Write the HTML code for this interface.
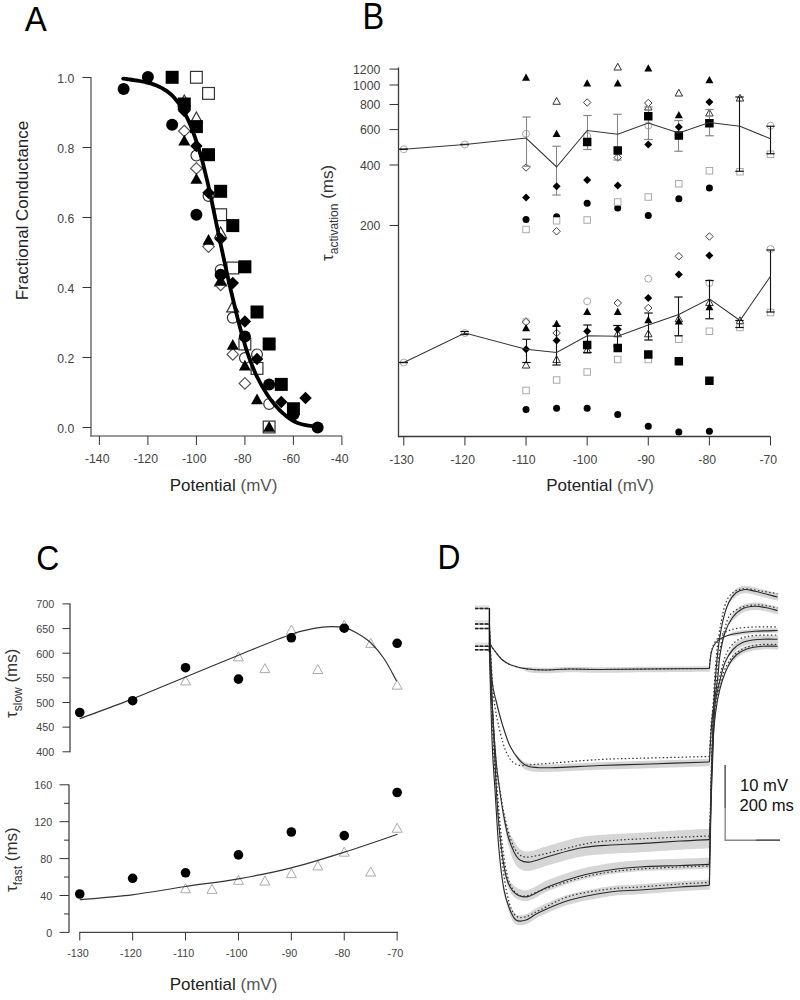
<!DOCTYPE html>
<html><head><meta charset="utf-8"><style>
html,body{margin:0;padding:0;background:#fff;width:800px;height:1000px;overflow:hidden}
svg{display:block;font-family:"Liberation Sans", sans-serif}
</style></head><body>
<svg width="800" height="1000" viewBox="0 0 800 1000">
<rect width="800" height="1000" fill="#fff"/>
<text x="0" y="0" font-size="33" fill="#000" text-anchor="middle" transform="translate(35.75,31.0) scale(1.0,1.054)">A</text>
<text x="0" y="0" font-size="33" fill="#000" text-anchor="middle" transform="translate(373.25,29.4) scale(0.986,1.115)">B</text>
<text x="0" y="0" font-size="33" fill="#000" text-anchor="middle" transform="translate(47.75,569.6) scale(0.966,1.066)">C</text>
<text x="0" y="0" font-size="33" fill="#000" text-anchor="middle" transform="translate(448.9,568.6) scale(0.963,1.078)">D</text>
<line x1="91.00" y1="77.00" x2="91.00" y2="436.50" stroke="#777" stroke-width="1.6" />
<line x1="90.20" y1="436.00" x2="342.00" y2="436.00" stroke="#777" stroke-width="1.6" />
<line x1="82.50" y1="427.50" x2="91.00" y2="427.50" stroke="#333" stroke-width="1" />
<text x="0" y="0" font-size="12.5" fill="#444" text-anchor="end" transform="translate(74.30,432.50) scale(0.98,1.065)" >0.0</text>
<line x1="82.50" y1="357.50" x2="91.00" y2="357.50" stroke="#333" stroke-width="1" />
<text x="0" y="0" font-size="12.5" fill="#444" text-anchor="end" transform="translate(74.30,362.50) scale(0.98,1.065)" >0.2</text>
<line x1="82.50" y1="287.50" x2="91.00" y2="287.50" stroke="#333" stroke-width="1" />
<text x="0" y="0" font-size="12.5" fill="#444" text-anchor="end" transform="translate(74.30,292.50) scale(0.98,1.065)" >0.4</text>
<line x1="82.50" y1="217.50" x2="91.00" y2="217.50" stroke="#333" stroke-width="1" />
<text x="0" y="0" font-size="12.5" fill="#444" text-anchor="end" transform="translate(74.30,222.50) scale(0.98,1.065)" >0.6</text>
<line x1="82.50" y1="147.50" x2="91.00" y2="147.50" stroke="#333" stroke-width="1" />
<text x="0" y="0" font-size="12.5" fill="#444" text-anchor="end" transform="translate(74.30,152.50) scale(0.98,1.065)" >0.8</text>
<line x1="82.50" y1="77.50" x2="91.00" y2="77.50" stroke="#333" stroke-width="1" />
<text x="0" y="0" font-size="12.5" fill="#444" text-anchor="end" transform="translate(74.30,82.50) scale(0.98,1.065)" >1.0</text>
<line x1="99.40" y1="436.00" x2="99.40" y2="445.00" stroke="#333" stroke-width="1" />
<text x="0" y="0" font-size="12.5" fill="#444" text-anchor="middle" transform="translate(97.20,463.30) scale(0.98,1.065)" >-140</text>
<line x1="147.90" y1="436.00" x2="147.90" y2="445.00" stroke="#333" stroke-width="1" />
<text x="0" y="0" font-size="12.5" fill="#444" text-anchor="middle" transform="translate(145.70,463.30) scale(0.98,1.065)" >-120</text>
<line x1="196.40" y1="436.00" x2="196.40" y2="445.00" stroke="#333" stroke-width="1" />
<text x="0" y="0" font-size="12.5" fill="#444" text-anchor="middle" transform="translate(194.20,463.30) scale(0.98,1.065)" >-100</text>
<line x1="244.90" y1="436.00" x2="244.90" y2="445.00" stroke="#333" stroke-width="1" />
<text x="0" y="0" font-size="12.5" fill="#444" text-anchor="middle" transform="translate(242.70,463.30) scale(0.98,1.065)" >-80</text>
<line x1="293.40" y1="436.00" x2="293.40" y2="445.00" stroke="#333" stroke-width="1" />
<text x="0" y="0" font-size="12.5" fill="#444" text-anchor="middle" transform="translate(291.20,463.30) scale(0.98,1.065)" >-60</text>
<line x1="341.90" y1="436.00" x2="341.90" y2="445.00" stroke="#333" stroke-width="1" />
<text x="0" y="0" font-size="12.5" fill="#444" text-anchor="middle" transform="translate(339.70,463.30) scale(0.98,1.065)" >-40</text>
<text x="223.50" y="491.20" font-size="17" fill="#222" text-anchor="middle" >Potential <tspan fill="#555">(mV)</tspan></text>
<text x="0" y="0" font-size="17" fill="#222" text-anchor="middle" transform="translate(28.2,210.5) rotate(-90)">Fractional Conductance</text>
<rect x="190.50" y="71.40" width="11.80" height="11.80" fill="#fff" stroke="#333" stroke-width="1.2"/>
<rect x="202.62" y="87.50" width="11.80" height="11.80" fill="#fff" stroke="#333" stroke-width="1.2"/>
<rect x="214.75" y="208.80" width="11.80" height="11.80" fill="#fff" stroke="#333" stroke-width="1.2"/>
<rect x="226.88" y="262.10" width="11.80" height="11.80" fill="#fff" stroke="#333" stroke-width="1.2"/>
<rect x="239.00" y="338.10" width="11.80" height="11.80" fill="#fff" stroke="#333" stroke-width="1.2"/>
<rect x="251.12" y="362.50" width="11.80" height="11.80" fill="#fff" stroke="#333" stroke-width="1.2"/>
<rect x="263.25" y="421.10" width="11.80" height="11.80" fill="#fff" stroke="#333" stroke-width="1.2"/>
<polygon points="184.28,95.06 190.28,105.86 178.28,105.86" fill="#fff" stroke="#333" stroke-width="1.2" stroke-linejoin="miter"/>
<polygon points="196.40,112.06 202.40,122.86 190.40,122.86" fill="#fff" stroke="#333" stroke-width="1.2" stroke-linejoin="miter"/>
<polygon points="220.65,227.06 226.65,237.86 214.65,237.86" fill="#fff" stroke="#333" stroke-width="1.2" stroke-linejoin="miter"/>
<polygon points="232.78,301.06 238.78,311.86 226.78,311.86" fill="#fff" stroke="#333" stroke-width="1.2" stroke-linejoin="miter"/>
<polygon points="220.65,275.06 226.65,285.86 214.65,285.86" fill="#fff" stroke="#333" stroke-width="1.2" stroke-linejoin="miter"/>
<circle cx="196.40" cy="155.60" r="5.40" fill="#fff" stroke="#333" stroke-width="1.2"/>
<circle cx="208.52" cy="196.00" r="5.40" fill="#fff" stroke="#333" stroke-width="1.2"/>
<circle cx="220.65" cy="270.00" r="5.40" fill="#fff" stroke="#333" stroke-width="1.2"/>
<circle cx="232.78" cy="317.80" r="5.40" fill="#fff" stroke="#333" stroke-width="1.2"/>
<circle cx="244.90" cy="358.00" r="5.40" fill="#fff" stroke="#333" stroke-width="1.2"/>
<circle cx="257.02" cy="354.40" r="5.40" fill="#fff" stroke="#333" stroke-width="1.2"/>
<circle cx="269.15" cy="404.00" r="5.40" fill="#fff" stroke="#333" stroke-width="1.2"/>
<polygon points="184.28,125.25 190.03,131.00 184.28,136.75 178.53,131.00" fill="#fff" stroke="#555" stroke-width="1.2"/>
<polygon points="196.40,162.65 202.15,168.40 196.40,174.15 190.65,168.40" fill="#fff" stroke="#555" stroke-width="1.2"/>
<polygon points="208.52,240.85 214.27,246.60 208.52,252.35 202.77,246.60" fill="#fff" stroke="#555" stroke-width="1.2"/>
<polygon points="220.65,279.25 226.40,285.00 220.65,290.75 214.90,285.00" fill="#fff" stroke="#555" stroke-width="1.2"/>
<polygon points="232.78,348.65 238.53,354.40 232.78,360.15 227.03,354.40" fill="#fff" stroke="#555" stroke-width="1.2"/>
<polygon points="244.90,377.65 250.65,383.40 244.90,389.15 239.15,383.40" fill="#fff" stroke="#555" stroke-width="1.2"/>
<rect x="165.65" y="70.80" width="13.00" height="13.00" fill="#000"/>
<rect x="177.78" y="97.50" width="13.00" height="13.00" fill="#000"/>
<rect x="189.90" y="120.10" width="13.00" height="13.00" fill="#000"/>
<rect x="202.02" y="148.20" width="13.00" height="13.00" fill="#000"/>
<rect x="214.15" y="184.80" width="13.00" height="13.00" fill="#000"/>
<rect x="226.28" y="219.10" width="13.00" height="13.00" fill="#000"/>
<rect x="238.40" y="260.30" width="13.00" height="13.00" fill="#000"/>
<rect x="250.52" y="305.50" width="13.00" height="13.00" fill="#000"/>
<rect x="262.65" y="337.50" width="13.00" height="13.00" fill="#000"/>
<rect x="274.77" y="377.90" width="13.00" height="13.00" fill="#000"/>
<rect x="286.90" y="402.25" width="13.00" height="13.00" fill="#000"/>
<circle cx="123.65" cy="89.00" r="6.00" fill="#000"/>
<circle cx="147.90" cy="77.00" r="6.00" fill="#000"/>
<circle cx="172.15" cy="124.70" r="6.00" fill="#000"/>
<circle cx="196.40" cy="214.70" r="6.00" fill="#000"/>
<circle cx="220.65" cy="274.70" r="6.00" fill="#000"/>
<circle cx="244.90" cy="336.60" r="6.00" fill="#000"/>
<circle cx="269.15" cy="384.40" r="6.00" fill="#000"/>
<circle cx="293.40" cy="414.40" r="6.00" fill="#000"/>
<circle cx="317.65" cy="427.50" r="6.00" fill="#000"/>
<polygon points="184.28,104.75 190.53,111.00 184.28,117.25 178.03,111.00" fill="#000"/>
<polygon points="196.40,139.75 202.65,146.00 196.40,152.25 190.15,146.00" fill="#000"/>
<polygon points="208.52,186.55 214.77,192.80 208.52,199.05 202.27,192.80" fill="#000"/>
<polygon points="220.65,232.75 226.90,239.00 220.65,245.25 214.40,239.00" fill="#000"/>
<polygon points="232.78,276.75 239.03,283.00 232.78,289.25 226.53,283.00" fill="#000"/>
<polygon points="244.90,315.35 251.15,321.60 244.90,327.85 238.65,321.60" fill="#000"/>
<polygon points="257.02,352.75 263.27,359.00 257.02,365.25 250.77,359.00" fill="#000"/>
<polygon points="281.27,395.75 287.52,402.00 281.27,408.25 275.02,402.00" fill="#000"/>
<polygon points="305.52,391.75 311.77,398.00 305.52,404.25 299.27,398.00" fill="#000"/>
<polygon points="184.28,134.66 190.28,145.46 178.28,145.46" fill="#000"/>
<polygon points="196.40,173.06 202.40,183.86 190.40,183.86" fill="#000"/>
<polygon points="208.52,234.06 214.52,244.86 202.52,244.86" fill="#000"/>
<polygon points="220.65,275.06 226.65,285.86 214.65,285.86" fill="#000"/>
<polygon points="232.78,339.06 238.78,349.86 226.78,349.86" fill="#000"/>
<polygon points="244.90,359.66 250.90,370.46 238.90,370.46" fill="#000"/>
<polygon points="257.02,393.46 263.02,404.26 251.02,404.26" fill="#000"/>
<polygon points="269.15,421.06 275.15,431.86 263.15,431.86" fill="#000"/>
<path d="M123.20,78.60 C123.75,78.67 125.40,78.85 126.50,79.00 C127.60,79.15 128.72,79.33 129.80,79.50 C130.88,79.67 131.92,79.83 133.00,80.00 C134.08,80.17 135.20,80.33 136.30,80.50 C137.40,80.67 138.52,80.82 139.60,81.00 C140.68,81.18 141.72,81.38 142.80,81.60 C143.88,81.82 145.00,82.03 146.10,82.30 C147.20,82.57 148.32,82.90 149.40,83.20 C150.48,83.50 151.52,83.75 152.60,84.10 C153.68,84.45 154.80,84.87 155.90,85.30 C157.00,85.73 158.12,86.20 159.20,86.70 C160.28,87.20 161.32,87.68 162.40,88.30 C163.48,88.92 164.60,89.65 165.70,90.40 C166.80,91.15 167.90,91.92 169.00,92.80 C170.10,93.68 171.22,94.63 172.30,95.70 C173.38,96.77 174.42,97.92 175.50,99.20 C176.58,100.48 177.70,101.88 178.80,103.40 C179.90,104.92 181.02,106.52 182.10,108.30 C183.18,110.08 184.22,112.00 185.30,114.10 C186.38,116.20 187.50,118.47 188.60,120.90 C189.70,123.33 190.82,125.92 191.90,128.70 C192.98,131.48 194.02,134.45 195.10,137.60 C196.18,140.75 197.30,144.07 198.40,147.60 C199.50,151.13 200.62,154.83 201.70,158.80 C202.78,162.77 203.82,167.02 204.90,171.40 C205.98,175.78 207.10,180.33 208.20,185.10 C209.30,189.87 210.42,194.93 211.50,200.00 C212.58,205.07 213.62,210.27 214.70,215.50 C215.78,220.73 216.90,226.13 218.00,231.40 C219.10,236.67 220.20,241.93 221.30,247.10 C222.40,252.27 223.51,257.42 224.59,262.40 C225.67,267.38 226.71,272.23 227.78,277.00 C228.85,281.77 229.95,286.47 231.03,291.00 C232.10,295.53 233.18,299.93 234.21,304.20 C235.24,308.47 236.21,312.60 237.21,316.60 C238.21,320.60 239.23,324.48 240.22,328.20 C241.22,331.92 242.23,335.47 243.21,338.90 C244.19,342.33 245.12,345.65 246.12,348.80 C247.12,351.95 248.16,354.92 249.21,357.80 C250.26,360.68 251.35,363.45 252.41,366.10 C253.48,368.75 254.52,371.30 255.61,373.70 C256.71,376.10 257.85,378.32 258.98,380.50 C260.12,382.68 261.26,384.82 262.41,386.80 C263.55,388.78 264.72,390.62 265.85,392.40 C266.98,394.18 268.07,395.88 269.20,397.50 C270.33,399.12 271.49,400.63 272.64,402.10 C273.78,403.57 274.94,405.00 276.07,406.30 C277.19,407.60 278.25,408.75 279.37,409.90 C280.49,411.05 281.64,412.18 282.76,413.20 C283.89,414.22 285.03,415.13 286.14,416.00 C287.24,416.87 288.30,417.65 289.40,418.40 C290.50,419.15 291.63,419.87 292.75,420.50 C293.86,421.13 294.99,421.70 296.08,422.20 C297.18,422.70 298.22,423.12 299.31,423.50 C300.40,423.88 301.53,424.22 302.63,424.50 C303.74,424.78 304.61,424.97 305.94,425.20 C307.28,425.43 309.04,425.70 310.66,425.90 C312.28,426.10 314.83,426.32 315.67,426.40" fill="none" stroke="#000" stroke-width="3.8" stroke-linecap="round"/>
<line x1="398.50" y1="67.50" x2="398.50" y2="437.20" stroke="#3a3a3a" stroke-width="1.3" />
<line x1="397.90" y1="436.50" x2="770.50" y2="436.50" stroke="#3a3a3a" stroke-width="1.3" />
<line x1="389.50" y1="69.08" x2="398.50" y2="69.08" stroke="#333" stroke-width="1" />
<text x="0" y="0" font-size="12.5" fill="#444" text-anchor="end" transform="translate(380.30,73.98) scale(0.98,1.065)" >1200</text>
<line x1="389.50" y1="85.00" x2="398.50" y2="85.00" stroke="#333" stroke-width="1" />
<text x="0" y="0" font-size="12.5" fill="#444" text-anchor="end" transform="translate(380.30,89.90) scale(0.98,1.065)" >1000</text>
<line x1="389.50" y1="104.48" x2="398.50" y2="104.48" stroke="#333" stroke-width="1" />
<text x="0" y="0" font-size="12.5" fill="#444" text-anchor="end" transform="translate(380.30,109.38) scale(0.98,1.065)" >800</text>
<line x1="389.50" y1="129.59" x2="398.50" y2="129.59" stroke="#333" stroke-width="1" />
<text x="0" y="0" font-size="12.5" fill="#444" text-anchor="end" transform="translate(380.30,134.49) scale(0.98,1.065)" >600</text>
<line x1="389.50" y1="164.99" x2="398.50" y2="164.99" stroke="#333" stroke-width="1" />
<text x="0" y="0" font-size="12.5" fill="#444" text-anchor="end" transform="translate(380.30,169.89) scale(0.98,1.065)" >400</text>
<line x1="389.50" y1="225.49" x2="398.50" y2="225.49" stroke="#333" stroke-width="1" />
<text x="0" y="0" font-size="12.5" fill="#444" text-anchor="end" transform="translate(380.30,230.39) scale(0.98,1.065)" >200</text>
<line x1="403.80" y1="436.50" x2="403.80" y2="445.50" stroke="#333" stroke-width="1" />
<text x="0" y="0" font-size="12.5" fill="#444" text-anchor="middle" transform="translate(401.60,463.60) scale(0.98,1.065)" >-130</text>
<line x1="464.92" y1="436.50" x2="464.92" y2="445.50" stroke="#333" stroke-width="1" />
<text x="0" y="0" font-size="12.5" fill="#444" text-anchor="middle" transform="translate(462.72,463.60) scale(0.98,1.065)" >-120</text>
<line x1="526.04" y1="436.50" x2="526.04" y2="445.50" stroke="#333" stroke-width="1" />
<text x="0" y="0" font-size="12.5" fill="#444" text-anchor="middle" transform="translate(523.84,463.60) scale(0.98,1.065)" >-110</text>
<line x1="587.16" y1="436.50" x2="587.16" y2="445.50" stroke="#333" stroke-width="1" />
<text x="0" y="0" font-size="12.5" fill="#444" text-anchor="middle" transform="translate(584.96,463.60) scale(0.98,1.065)" >-100</text>
<line x1="648.28" y1="436.50" x2="648.28" y2="445.50" stroke="#333" stroke-width="1" />
<text x="0" y="0" font-size="12.5" fill="#444" text-anchor="middle" transform="translate(646.08,463.60) scale(0.98,1.065)" >-90</text>
<line x1="709.40" y1="436.50" x2="709.40" y2="445.50" stroke="#333" stroke-width="1" />
<text x="0" y="0" font-size="12.5" fill="#444" text-anchor="middle" transform="translate(707.20,463.60) scale(0.98,1.065)" >-80</text>
<line x1="770.52" y1="436.50" x2="770.52" y2="445.50" stroke="#333" stroke-width="1" />
<text x="0" y="0" font-size="12.5" fill="#444" text-anchor="middle" transform="translate(768.32,463.60) scale(0.98,1.065)" >-70</text>
<text x="600.00" y="491.20" font-size="17" fill="#222" text-anchor="middle" >Potential <tspan fill="#555">(mV)</tspan></text>
<g transform="translate(332.5,261) rotate(-90)"><text x="0" y="0" font-size="17" fill="#333">τ<tspan font-size="12" dy="5">activation</tspan><tspan dy="-5" font-size="17"> (ms)</tspan></text></g>
<circle cx="403.80" cy="149.25" r="3.50" fill="#fff" stroke="#aaa" stroke-width="1"/>
<circle cx="464.92" cy="144.50" r="3.50" fill="#fff" stroke="#aaa" stroke-width="1"/>
<circle cx="526.04" cy="133.75" r="3.50" fill="#fff" stroke="#aaa" stroke-width="1"/>
<circle cx="587.16" cy="136.00" r="3.50" fill="#fff" stroke="#aaa" stroke-width="1"/>
<circle cx="648.28" cy="125.50" r="3.50" fill="#fff" stroke="#aaa" stroke-width="1"/>
<circle cx="770.52" cy="125.75" r="3.50" fill="#fff" stroke="#aaa" stroke-width="1"/>
<circle cx="403.80" cy="362.50" r="3.50" fill="#fff" stroke="#aaa" stroke-width="1"/>
<circle cx="464.92" cy="333.00" r="3.50" fill="#fff" stroke="#aaa" stroke-width="1"/>
<circle cx="526.04" cy="321.25" r="3.50" fill="#fff" stroke="#aaa" stroke-width="1"/>
<circle cx="587.16" cy="301.25" r="3.50" fill="#fff" stroke="#aaa" stroke-width="1"/>
<circle cx="648.28" cy="278.75" r="3.50" fill="#fff" stroke="#aaa" stroke-width="1"/>
<circle cx="709.40" cy="283.00" r="3.50" fill="#fff" stroke="#aaa" stroke-width="1"/>
<circle cx="770.52" cy="249.00" r="3.50" fill="#fff" stroke="#aaa" stroke-width="1"/>
<polygon points="556.60,97.54 560.35,104.29 552.85,104.29" fill="#fff" stroke="#333" stroke-width="1" stroke-linejoin="miter"/>
<polygon points="617.72,63.29 621.47,70.04 613.97,70.04" fill="#fff" stroke="#333" stroke-width="1" stroke-linejoin="miter"/>
<polygon points="648.28,103.29 652.03,110.04 644.53,110.04" fill="#fff" stroke="#333" stroke-width="1" stroke-linejoin="miter"/>
<polygon points="678.84,89.29 682.59,96.04 675.09,96.04" fill="#fff" stroke="#333" stroke-width="1" stroke-linejoin="miter"/>
<polygon points="709.40,109.29 713.15,116.04 705.65,116.04" fill="#fff" stroke="#333" stroke-width="1" stroke-linejoin="miter"/>
<polygon points="739.96,94.29 743.71,101.04 736.21,101.04" fill="#fff" stroke="#333" stroke-width="1" stroke-linejoin="miter"/>
<polygon points="526.04,361.29 529.79,368.04 522.29,368.04" fill="#fff" stroke="#333" stroke-width="1" stroke-linejoin="miter"/>
<polygon points="556.60,355.79 560.35,362.54 552.85,362.54" fill="#fff" stroke="#333" stroke-width="1" stroke-linejoin="miter"/>
<polygon points="587.16,346.29 590.91,353.04 583.41,353.04" fill="#fff" stroke="#333" stroke-width="1" stroke-linejoin="miter"/>
<polygon points="617.72,330.04 621.47,336.79 613.97,336.79" fill="#fff" stroke="#333" stroke-width="1" stroke-linejoin="miter"/>
<polygon points="648.28,330.04 652.03,336.79 644.53,336.79" fill="#fff" stroke="#333" stroke-width="1" stroke-linejoin="miter"/>
<polygon points="678.84,315.04 682.59,321.79 675.09,321.79" fill="#fff" stroke="#333" stroke-width="1" stroke-linejoin="miter"/>
<polygon points="709.40,298.79 713.15,305.54 705.65,305.54" fill="#fff" stroke="#333" stroke-width="1" stroke-linejoin="miter"/>
<polygon points="739.96,316.79 743.71,323.54 736.21,323.54" fill="#fff" stroke="#333" stroke-width="1" stroke-linejoin="miter"/>
<polygon points="526.04,163.75 529.79,167.50 526.04,171.25 522.29,167.50" fill="#fff" stroke="#444" stroke-width="1"/>
<polygon points="556.60,227.50 560.35,231.25 556.60,235.00 552.85,231.25" fill="#fff" stroke="#444" stroke-width="1"/>
<polygon points="587.16,98.75 590.91,102.50 587.16,106.25 583.41,102.50" fill="#fff" stroke="#444" stroke-width="1"/>
<polygon points="617.72,153.75 621.47,157.50 617.72,161.25 613.97,157.50" fill="#fff" stroke="#444" stroke-width="1"/>
<polygon points="648.28,99.25 652.03,103.00 648.28,106.75 644.53,103.00" fill="#fff" stroke="#444" stroke-width="1"/>
<polygon points="709.40,232.75 713.15,236.50 709.40,240.25 705.65,236.50" fill="#fff" stroke="#444" stroke-width="1"/>
<polygon points="526.04,318.25 529.79,322.00 526.04,325.75 522.29,322.00" fill="#fff" stroke="#444" stroke-width="1"/>
<polygon points="556.60,329.25 560.35,333.00 556.60,336.75 552.85,333.00" fill="#fff" stroke="#444" stroke-width="1"/>
<polygon points="617.72,299.25 621.47,303.00 617.72,306.75 613.97,303.00" fill="#fff" stroke="#444" stroke-width="1"/>
<polygon points="648.28,304.25 652.03,308.00 648.28,311.75 644.53,308.00" fill="#fff" stroke="#444" stroke-width="1"/>
<polygon points="678.84,252.50 682.59,256.25 678.84,260.00 675.09,256.25" fill="#fff" stroke="#444" stroke-width="1"/>
<circle cx="526.04" cy="219.50" r="3.50" fill="#000"/>
<circle cx="556.60" cy="216.75" r="3.50" fill="#000"/>
<circle cx="587.16" cy="203.30" r="3.50" fill="#000"/>
<circle cx="617.72" cy="208.00" r="3.50" fill="#000"/>
<circle cx="648.28" cy="215.50" r="3.50" fill="#000"/>
<circle cx="678.84" cy="198.75" r="3.50" fill="#000"/>
<circle cx="709.40" cy="188.00" r="3.50" fill="#000"/>
<circle cx="526.04" cy="409.50" r="3.50" fill="#000"/>
<circle cx="556.60" cy="408.25" r="3.50" fill="#000"/>
<circle cx="587.16" cy="408.25" r="3.50" fill="#000"/>
<circle cx="617.72" cy="414.50" r="3.50" fill="#000"/>
<circle cx="648.28" cy="426.25" r="3.50" fill="#000"/>
<circle cx="678.84" cy="432.00" r="3.50" fill="#000"/>
<circle cx="709.40" cy="431.25" r="3.50" fill="#000"/>
<rect x="522.79" y="226.25" width="6.50" height="6.50" fill="#fff" stroke="#aaa" stroke-width="1"/>
<rect x="553.35" y="217.50" width="6.50" height="6.50" fill="#fff" stroke="#aaa" stroke-width="1"/>
<rect x="583.91" y="216.75" width="6.50" height="6.50" fill="#fff" stroke="#aaa" stroke-width="1"/>
<rect x="614.47" y="198.75" width="6.50" height="6.50" fill="#fff" stroke="#aaa" stroke-width="1"/>
<rect x="645.03" y="193.75" width="6.50" height="6.50" fill="#fff" stroke="#aaa" stroke-width="1"/>
<rect x="675.59" y="180.50" width="6.50" height="6.50" fill="#fff" stroke="#aaa" stroke-width="1"/>
<rect x="706.15" y="167.50" width="6.50" height="6.50" fill="#fff" stroke="#aaa" stroke-width="1"/>
<rect x="736.71" y="168.50" width="6.50" height="6.50" fill="#fff" stroke="#aaa" stroke-width="1"/>
<rect x="767.27" y="151.00" width="6.50" height="6.50" fill="#fff" stroke="#aaa" stroke-width="1"/>
<rect x="522.79" y="387.25" width="6.50" height="6.50" fill="#fff" stroke="#aaa" stroke-width="1"/>
<rect x="553.35" y="376.75" width="6.50" height="6.50" fill="#fff" stroke="#aaa" stroke-width="1"/>
<rect x="583.91" y="368.75" width="6.50" height="6.50" fill="#fff" stroke="#aaa" stroke-width="1"/>
<rect x="614.47" y="356.25" width="6.50" height="6.50" fill="#fff" stroke="#aaa" stroke-width="1"/>
<rect x="645.03" y="356.25" width="6.50" height="6.50" fill="#fff" stroke="#aaa" stroke-width="1"/>
<rect x="675.59" y="336.00" width="6.50" height="6.50" fill="#fff" stroke="#aaa" stroke-width="1"/>
<rect x="706.15" y="328.00" width="6.50" height="6.50" fill="#fff" stroke="#aaa" stroke-width="1"/>
<rect x="736.71" y="324.25" width="6.50" height="6.50" fill="#fff" stroke="#aaa" stroke-width="1"/>
<rect x="767.27" y="309.25" width="6.50" height="6.50" fill="#fff" stroke="#aaa" stroke-width="1"/>
<line x1="403.50" y1="149.25" x2="403.50" y2="149.25" stroke="#111" stroke-width="1.1" />
<line x1="399.30" y1="149.25" x2="407.70" y2="149.25" stroke="#111" stroke-width="1.2" />
<line x1="399.30" y1="149.25" x2="407.70" y2="149.25" stroke="#111" stroke-width="1.2" />
<line x1="464.50" y1="144.50" x2="464.50" y2="144.50" stroke="#111" stroke-width="1.1" />
<line x1="460.30" y1="144.50" x2="468.70" y2="144.50" stroke="#111" stroke-width="1.2" />
<line x1="460.30" y1="144.50" x2="468.70" y2="144.50" stroke="#111" stroke-width="1.2" />
<line x1="526.50" y1="117.00" x2="526.50" y2="166.25" stroke="#888" stroke-width="1.1" />
<line x1="522.30" y1="117.00" x2="530.70" y2="117.00" stroke="#888" stroke-width="1.2" />
<line x1="522.30" y1="166.25" x2="530.70" y2="166.25" stroke="#888" stroke-width="1.2" />
<line x1="556.50" y1="146.25" x2="556.50" y2="195.00" stroke="#888" stroke-width="1.1" />
<line x1="552.30" y1="146.25" x2="560.70" y2="146.25" stroke="#888" stroke-width="1.2" />
<line x1="552.30" y1="195.00" x2="560.70" y2="195.00" stroke="#888" stroke-width="1.2" />
<line x1="587.50" y1="115.50" x2="587.50" y2="149.50" stroke="#888" stroke-width="1.1" />
<line x1="583.30" y1="115.50" x2="591.70" y2="115.50" stroke="#888" stroke-width="1.2" />
<line x1="583.30" y1="149.50" x2="591.70" y2="149.50" stroke="#888" stroke-width="1.2" />
<line x1="617.50" y1="114.25" x2="617.50" y2="160.00" stroke="#888" stroke-width="1.1" />
<line x1="613.30" y1="114.25" x2="621.70" y2="114.25" stroke="#888" stroke-width="1.2" />
<line x1="613.30" y1="160.00" x2="621.70" y2="160.00" stroke="#888" stroke-width="1.2" />
<line x1="648.50" y1="107.00" x2="648.50" y2="139.50" stroke="#888" stroke-width="1.1" />
<line x1="644.30" y1="107.00" x2="652.70" y2="107.00" stroke="#888" stroke-width="1.2" />
<line x1="644.30" y1="139.50" x2="652.70" y2="139.50" stroke="#888" stroke-width="1.2" />
<line x1="678.50" y1="120.50" x2="678.50" y2="151.25" stroke="#888" stroke-width="1.1" />
<line x1="674.30" y1="120.50" x2="682.70" y2="120.50" stroke="#888" stroke-width="1.2" />
<line x1="674.30" y1="151.25" x2="682.70" y2="151.25" stroke="#888" stroke-width="1.2" />
<line x1="709.50" y1="109.50" x2="709.50" y2="135.75" stroke="#888" stroke-width="1.1" />
<line x1="705.30" y1="109.50" x2="713.70" y2="109.50" stroke="#888" stroke-width="1.2" />
<line x1="705.30" y1="135.75" x2="713.70" y2="135.75" stroke="#888" stroke-width="1.2" />
<line x1="739.50" y1="97.00" x2="739.50" y2="171.25" stroke="#111" stroke-width="1.1" />
<line x1="735.30" y1="97.00" x2="743.70" y2="97.00" stroke="#111" stroke-width="1.2" />
<line x1="735.30" y1="171.25" x2="743.70" y2="171.25" stroke="#111" stroke-width="1.2" />
<line x1="770.50" y1="126.25" x2="770.50" y2="153.75" stroke="#111" stroke-width="1.1" />
<line x1="766.30" y1="126.25" x2="774.70" y2="126.25" stroke="#111" stroke-width="1.2" />
<line x1="766.30" y1="153.75" x2="774.70" y2="153.75" stroke="#111" stroke-width="1.2" />
<line x1="403.50" y1="362.50" x2="403.50" y2="362.50" stroke="#111" stroke-width="1.1" />
<line x1="399.30" y1="362.50" x2="407.70" y2="362.50" stroke="#111" stroke-width="1.2" />
<line x1="399.30" y1="362.50" x2="407.70" y2="362.50" stroke="#111" stroke-width="1.2" />
<line x1="526.50" y1="339.25" x2="526.50" y2="362.50" stroke="#111" stroke-width="1.1" />
<line x1="522.30" y1="339.25" x2="530.70" y2="339.25" stroke="#111" stroke-width="1.2" />
<line x1="522.30" y1="362.50" x2="530.70" y2="362.50" stroke="#111" stroke-width="1.2" />
<line x1="556.50" y1="326.00" x2="556.50" y2="365.00" stroke="#111" stroke-width="1.1" />
<line x1="552.30" y1="326.00" x2="560.70" y2="326.00" stroke="#111" stroke-width="1.2" />
<line x1="552.30" y1="365.00" x2="560.70" y2="365.00" stroke="#111" stroke-width="1.2" />
<line x1="587.50" y1="325.00" x2="587.50" y2="352.50" stroke="#111" stroke-width="1.1" />
<line x1="583.30" y1="325.00" x2="591.70" y2="325.00" stroke="#111" stroke-width="1.2" />
<line x1="583.30" y1="352.50" x2="591.70" y2="352.50" stroke="#111" stroke-width="1.2" />
<line x1="617.50" y1="325.50" x2="617.50" y2="346.00" stroke="#111" stroke-width="1.1" />
<line x1="613.30" y1="325.50" x2="621.70" y2="325.50" stroke="#111" stroke-width="1.2" />
<line x1="613.30" y1="346.00" x2="621.70" y2="346.00" stroke="#111" stroke-width="1.2" />
<line x1="648.50" y1="313.00" x2="648.50" y2="340.00" stroke="#111" stroke-width="1.1" />
<line x1="644.30" y1="313.00" x2="652.70" y2="313.00" stroke="#111" stroke-width="1.2" />
<line x1="644.30" y1="340.00" x2="652.70" y2="340.00" stroke="#111" stroke-width="1.2" />
<line x1="678.50" y1="297.00" x2="678.50" y2="335.75" stroke="#111" stroke-width="1.1" />
<line x1="674.30" y1="297.00" x2="682.70" y2="297.00" stroke="#111" stroke-width="1.2" />
<line x1="674.30" y1="335.75" x2="682.70" y2="335.75" stroke="#111" stroke-width="1.2" />
<line x1="709.50" y1="280.50" x2="709.50" y2="318.75" stroke="#111" stroke-width="1.1" />
<line x1="705.30" y1="280.50" x2="713.70" y2="280.50" stroke="#111" stroke-width="1.2" />
<line x1="705.30" y1="318.75" x2="713.70" y2="318.75" stroke="#111" stroke-width="1.2" />
<line x1="739.50" y1="320.50" x2="739.50" y2="327.50" stroke="#111" stroke-width="1.1" />
<line x1="735.30" y1="320.50" x2="743.70" y2="320.50" stroke="#111" stroke-width="1.2" />
<line x1="735.30" y1="327.50" x2="743.70" y2="327.50" stroke="#111" stroke-width="1.2" />
<line x1="770.50" y1="250.00" x2="770.50" y2="312.00" stroke="#111" stroke-width="1.1" />
<line x1="766.30" y1="250.00" x2="774.70" y2="250.00" stroke="#111" stroke-width="1.2" />
<line x1="766.30" y1="312.00" x2="774.70" y2="312.00" stroke="#111" stroke-width="1.2" />
<line x1="464.50" y1="331.50" x2="464.50" y2="334.50" stroke="#111" stroke-width="1.1" />
<line x1="460.30" y1="331.50" x2="468.70" y2="331.50" stroke="#111" stroke-width="1.2" />
<line x1="460.30" y1="334.50" x2="468.70" y2="334.50" stroke="#111" stroke-width="1.2" />
<polygon points="526.04,73.54 530.04,80.74 522.04,80.74" fill="#000"/>
<polygon points="556.60,129.79 560.60,136.99 552.60,136.99" fill="#000"/>
<polygon points="587.16,79.29 591.16,86.49 583.16,86.49" fill="#000"/>
<polygon points="617.72,79.29 621.72,86.49 613.72,86.49" fill="#000"/>
<polygon points="648.28,64.29 652.28,71.49 644.28,71.49" fill="#000"/>
<polygon points="678.84,111.04 682.84,118.24 674.84,118.24" fill="#000"/>
<polygon points="709.40,76.04 713.40,83.24 705.40,83.24" fill="#000"/>
<polygon points="526.04,324.04 530.04,331.24 522.04,331.24" fill="#000"/>
<polygon points="556.60,319.79 560.60,326.99 552.60,326.99" fill="#000"/>
<polygon points="587.16,307.79 591.16,314.99 583.16,314.99" fill="#000"/>
<polygon points="617.72,307.79 621.72,314.99 613.72,314.99" fill="#000"/>
<polygon points="648.28,316.04 652.28,323.24 644.28,323.24" fill="#000"/>
<polygon points="678.84,317.29 682.84,324.49 674.84,324.49" fill="#000"/>
<polygon points="709.40,303.04 713.40,310.24 705.40,310.24" fill="#000"/>
<polygon points="526.04,193.50 530.04,197.50 526.04,201.50 522.04,197.50" fill="#000"/>
<polygon points="556.60,182.25 560.60,186.25 556.60,190.25 552.60,186.25" fill="#000"/>
<polygon points="587.16,176.00 591.16,180.00 587.16,184.00 583.16,180.00" fill="#000"/>
<polygon points="617.72,181.50 621.72,185.50 617.72,189.50 613.72,185.50" fill="#000"/>
<polygon points="648.28,140.50 652.28,144.50 648.28,148.50 644.28,144.50" fill="#000"/>
<polygon points="678.84,123.00 682.84,127.00 678.84,131.00 674.84,127.00" fill="#000"/>
<polygon points="709.40,98.00 713.40,102.00 709.40,106.00 705.40,102.00" fill="#000"/>
<polygon points="526.04,345.25 530.04,349.25 526.04,353.25 522.04,349.25" fill="#000"/>
<polygon points="556.60,336.50 560.60,340.50 556.60,344.50 552.60,340.50" fill="#000"/>
<polygon points="587.16,327.25 591.16,331.25 587.16,335.25 583.16,331.25" fill="#000"/>
<polygon points="617.72,325.25 621.72,329.25 617.72,333.25 613.72,329.25" fill="#000"/>
<polygon points="648.28,294.00 652.28,298.00 648.28,302.00 644.28,298.00" fill="#000"/>
<polygon points="678.84,270.50 682.84,274.50 678.84,278.50 674.84,274.50" fill="#000"/>
<polygon points="709.40,251.50 713.40,255.50 709.40,259.50 705.40,255.50" fill="#000"/>
<rect x="582.91" y="137.75" width="8.50" height="8.50" fill="#000"/>
<rect x="613.47" y="146.25" width="8.50" height="8.50" fill="#000"/>
<rect x="644.03" y="112.00" width="8.50" height="8.50" fill="#000"/>
<rect x="674.59" y="131.25" width="8.50" height="8.50" fill="#000"/>
<rect x="705.15" y="119.00" width="8.50" height="8.50" fill="#000"/>
<rect x="582.91" y="340.75" width="8.50" height="8.50" fill="#000"/>
<rect x="613.47" y="343.75" width="8.50" height="8.50" fill="#000"/>
<rect x="644.03" y="350.25" width="8.50" height="8.50" fill="#000"/>
<rect x="674.59" y="357.00" width="8.50" height="8.50" fill="#000"/>
<rect x="705.15" y="376.50" width="8.50" height="8.50" fill="#000"/>
<polyline points="403.80,149.25 464.92,144.50 526.04,138.00 556.60,167.00 587.16,130.50 617.72,134.25 648.28,123.00 678.84,133.00 709.40,122.50 739.96,126.25 770.52,138.75" fill="none" stroke="#333" stroke-width="1.05"/>
<polyline points="403.80,362.50 464.92,333.00 526.04,349.25 556.60,352.50 587.16,335.75 617.72,336.25 648.28,325.00 678.84,314.50 709.40,298.75 739.96,320.50 770.52,276.25" fill="none" stroke="#333" stroke-width="1.05"/>
<line x1="70.00" y1="603.50" x2="70.00" y2="752.30" stroke="#444" stroke-width="1.3" />
<line x1="62.50" y1="751.80" x2="70.00" y2="751.80" stroke="#333" stroke-width="1" />
<text x="0" y="0" font-size="11" fill="#444" text-anchor="end" transform="translate(54.30,756.10) scale(0.98,1.065)" >400</text>
<line x1="62.50" y1="727.15" x2="70.00" y2="727.15" stroke="#333" stroke-width="1" />
<text x="0" y="0" font-size="11" fill="#444" text-anchor="end" transform="translate(54.30,731.45) scale(0.98,1.065)" >450</text>
<line x1="62.50" y1="702.50" x2="70.00" y2="702.50" stroke="#333" stroke-width="1" />
<text x="0" y="0" font-size="11" fill="#444" text-anchor="end" transform="translate(54.30,706.80) scale(0.98,1.065)" >500</text>
<line x1="62.50" y1="677.85" x2="70.00" y2="677.85" stroke="#333" stroke-width="1" />
<text x="0" y="0" font-size="11" fill="#444" text-anchor="end" transform="translate(54.30,682.15) scale(0.98,1.065)" >550</text>
<line x1="62.50" y1="653.20" x2="70.00" y2="653.20" stroke="#333" stroke-width="1" />
<text x="0" y="0" font-size="11" fill="#444" text-anchor="end" transform="translate(54.30,657.50) scale(0.98,1.065)" >600</text>
<line x1="62.50" y1="628.55" x2="70.00" y2="628.55" stroke="#333" stroke-width="1" />
<text x="0" y="0" font-size="11" fill="#444" text-anchor="end" transform="translate(54.30,632.85) scale(0.98,1.065)" >650</text>
<line x1="62.50" y1="603.90" x2="70.00" y2="603.90" stroke="#333" stroke-width="1" />
<text x="0" y="0" font-size="11" fill="#444" text-anchor="end" transform="translate(54.30,608.20) scale(0.98,1.065)" >700</text>
<line x1="69.00" y1="784.50" x2="69.00" y2="932.60" stroke="#444" stroke-width="1.3" />
<line x1="79.30" y1="932.30" x2="398.00" y2="932.30" stroke="#444" stroke-width="1.3" />
<line x1="59.50" y1="932.40" x2="69.00" y2="932.40" stroke="#333" stroke-width="1" />
<text x="0" y="0" font-size="11" fill="#444" text-anchor="end" transform="translate(52.30,936.70) scale(0.98,1.065)" >0</text>
<line x1="64.00" y1="913.95" x2="69.00" y2="913.95" stroke="#333" stroke-width="1" />
<line x1="59.50" y1="895.50" x2="69.00" y2="895.50" stroke="#333" stroke-width="1" />
<text x="0" y="0" font-size="11" fill="#444" text-anchor="end" transform="translate(52.30,899.80) scale(0.98,1.065)" >40</text>
<line x1="64.00" y1="877.05" x2="69.00" y2="877.05" stroke="#333" stroke-width="1" />
<line x1="59.50" y1="858.60" x2="69.00" y2="858.60" stroke="#333" stroke-width="1" />
<text x="0" y="0" font-size="11" fill="#444" text-anchor="end" transform="translate(52.30,862.90) scale(0.98,1.065)" >80</text>
<line x1="64.00" y1="840.15" x2="69.00" y2="840.15" stroke="#333" stroke-width="1" />
<line x1="59.50" y1="821.70" x2="69.00" y2="821.70" stroke="#333" stroke-width="1" />
<text x="0" y="0" font-size="11" fill="#444" text-anchor="end" transform="translate(52.30,826.00) scale(0.98,1.065)" >120</text>
<line x1="64.00" y1="803.25" x2="69.00" y2="803.25" stroke="#333" stroke-width="1" />
<line x1="59.50" y1="784.80" x2="69.00" y2="784.80" stroke="#333" stroke-width="1" />
<text x="0" y="0" font-size="11" fill="#444" text-anchor="end" transform="translate(52.30,789.10) scale(0.98,1.065)" >160</text>
<line x1="79.75" y1="932.40" x2="79.75" y2="940.50" stroke="#333" stroke-width="1" />
<text x="0" y="0" font-size="11" fill="#444" text-anchor="middle" transform="translate(77.95,957.00) scale(0.98,1.065)" >-130</text>
<line x1="132.65" y1="932.40" x2="132.65" y2="940.50" stroke="#333" stroke-width="1" />
<text x="0" y="0" font-size="11" fill="#444" text-anchor="middle" transform="translate(130.85,957.00) scale(0.98,1.065)" >-120</text>
<line x1="185.55" y1="932.40" x2="185.55" y2="940.50" stroke="#333" stroke-width="1" />
<text x="0" y="0" font-size="11" fill="#444" text-anchor="middle" transform="translate(183.75,957.00) scale(0.98,1.065)" >-110</text>
<line x1="238.45" y1="932.40" x2="238.45" y2="940.50" stroke="#333" stroke-width="1" />
<text x="0" y="0" font-size="11" fill="#444" text-anchor="middle" transform="translate(236.65,957.00) scale(0.98,1.065)" >-100</text>
<line x1="291.35" y1="932.40" x2="291.35" y2="940.50" stroke="#333" stroke-width="1" />
<text x="0" y="0" font-size="11" fill="#444" text-anchor="middle" transform="translate(289.55,957.00) scale(0.98,1.065)" >-90</text>
<line x1="344.25" y1="932.40" x2="344.25" y2="940.50" stroke="#333" stroke-width="1" />
<text x="0" y="0" font-size="11" fill="#444" text-anchor="middle" transform="translate(342.45,957.00) scale(0.98,1.065)" >-80</text>
<line x1="397.15" y1="932.40" x2="397.15" y2="940.50" stroke="#333" stroke-width="1" />
<text x="0" y="0" font-size="11" fill="#444" text-anchor="middle" transform="translate(395.35,957.00) scale(0.98,1.065)" >-70</text>
<text x="223.50" y="990.00" font-size="17" fill="#222" text-anchor="middle" >Potential <tspan fill="#555">(mV)</tspan></text>
<g transform="translate(17,718) rotate(-90)"><text x="0" y="0" font-size="17" fill="#333">τ<tspan font-size="12" dy="5">slow</tspan><tspan dy="-5" font-size="17"> (ms)</tspan></text></g>
<g transform="translate(17,892) rotate(-90)"><text x="0" y="0" font-size="17" fill="#333">τ<tspan font-size="12" dy="5">fast</tspan><tspan dy="-5" font-size="17"> (ms)</tspan></text></g>
<polygon points="185.55,675.95 190.55,684.95 180.55,684.95" fill="#fff" stroke="#aaa" stroke-width="1" stroke-linejoin="miter"/>
<polygon points="238.45,651.85 243.45,660.85 233.45,660.85" fill="#fff" stroke="#aaa" stroke-width="1" stroke-linejoin="miter"/>
<polygon points="264.90,663.65 269.90,672.65 259.90,672.65" fill="#fff" stroke="#aaa" stroke-width="1" stroke-linejoin="miter"/>
<polygon points="291.35,625.15 296.35,634.15 286.35,634.15" fill="#fff" stroke="#aaa" stroke-width="1" stroke-linejoin="miter"/>
<polygon points="317.80,664.55 322.80,673.55 312.80,673.55" fill="#fff" stroke="#aaa" stroke-width="1" stroke-linejoin="miter"/>
<polygon points="344.25,620.25 349.25,629.25 339.25,629.25" fill="#fff" stroke="#aaa" stroke-width="1" stroke-linejoin="miter"/>
<polygon points="370.70,638.35 375.70,647.35 365.70,647.35" fill="#fff" stroke="#aaa" stroke-width="1" stroke-linejoin="miter"/>
<polygon points="397.15,680.15 402.15,689.15 392.15,689.15" fill="#fff" stroke="#aaa" stroke-width="1" stroke-linejoin="miter"/>
<polygon points="185.55,883.75 190.55,892.75 180.55,892.75" fill="#fff" stroke="#aaa" stroke-width="1" stroke-linejoin="miter"/>
<polygon points="212.00,884.35 217.00,893.35 207.00,893.35" fill="#fff" stroke="#aaa" stroke-width="1" stroke-linejoin="miter"/>
<polygon points="238.45,875.25 243.45,884.25 233.45,884.25" fill="#fff" stroke="#aaa" stroke-width="1" stroke-linejoin="miter"/>
<polygon points="264.90,876.05 269.90,885.05 259.90,885.05" fill="#fff" stroke="#aaa" stroke-width="1" stroke-linejoin="miter"/>
<polygon points="291.35,868.65 296.35,877.65 286.35,877.65" fill="#fff" stroke="#aaa" stroke-width="1" stroke-linejoin="miter"/>
<polygon points="317.80,860.95 322.80,869.95 312.80,869.95" fill="#fff" stroke="#aaa" stroke-width="1" stroke-linejoin="miter"/>
<polygon points="344.25,847.15 349.25,856.15 339.25,856.15" fill="#fff" stroke="#aaa" stroke-width="1" stroke-linejoin="miter"/>
<polygon points="370.70,867.05 375.70,876.05 365.70,876.05" fill="#fff" stroke="#aaa" stroke-width="1" stroke-linejoin="miter"/>
<polygon points="397.15,823.25 402.15,832.25 392.15,832.25" fill="#fff" stroke="#aaa" stroke-width="1" stroke-linejoin="miter"/>
<path d="M79.75,718.75 C88.54,715.44 114.96,705.82 132.50,698.90 C150.04,691.98 167.33,684.48 185.00,677.20 C202.67,669.92 220.78,662.35 238.50,655.20 C256.22,648.05 278.47,638.80 291.30,634.30 C304.13,629.80 308.95,629.48 315.50,628.20 C322.05,626.92 325.78,626.68 330.60,626.60 C335.42,626.52 340.04,626.65 344.40,627.70 C348.76,628.75 352.40,630.43 356.75,632.90 C361.10,635.37 365.92,638.15 370.50,642.50 C375.08,646.85 379.90,652.58 384.25,659.00 C388.60,665.42 394.54,677.33 396.60,681.00" fill="none" stroke="#333" stroke-width="1.2"/>
<path d="M79.75,899.70 C88.46,898.88 114.36,897.00 132.00,894.80 C149.64,892.60 167.85,889.17 185.60,886.50 C203.35,883.83 220.88,881.92 238.50,878.80 C256.12,875.68 273.65,872.25 291.30,867.80 C308.95,863.35 326.70,857.68 344.40,852.10 C362.10,846.52 388.65,837.27 397.50,834.30" fill="none" stroke="#333" stroke-width="1.2"/>
<circle cx="79.75" cy="712.50" r="4.80" fill="#000"/>
<circle cx="132.65" cy="700.70" r="4.80" fill="#000"/>
<circle cx="185.55" cy="667.70" r="4.80" fill="#000"/>
<circle cx="238.45" cy="679.10" r="4.80" fill="#000"/>
<circle cx="291.35" cy="637.80" r="4.80" fill="#000"/>
<circle cx="344.25" cy="628.20" r="4.80" fill="#000"/>
<circle cx="397.15" cy="643.30" r="4.80" fill="#000"/>
<circle cx="79.75" cy="894.00" r="4.80" fill="#000"/>
<circle cx="132.65" cy="878.30" r="4.80" fill="#000"/>
<circle cx="185.55" cy="872.80" r="4.80" fill="#000"/>
<circle cx="238.45" cy="854.90" r="4.80" fill="#000"/>
<circle cx="291.35" cy="832.00" r="4.80" fill="#000"/>
<circle cx="344.25" cy="835.60" r="4.80" fill="#000"/>
<circle cx="397.15" cy="792.50" r="4.80" fill="#000"/>
<line x1="725.20" y1="765.00" x2="725.20" y2="840.20" stroke="#888" stroke-width="1.4" />
<line x1="725.20" y1="765.00" x2="725.20" y2="808.00" stroke="#666" stroke-width="1.4" />
<line x1="724.50" y1="840.20" x2="780.00" y2="840.20" stroke="#888" stroke-width="1.4" />
<line x1="756.00" y1="840.20" x2="780.00" y2="840.20" stroke="#555" stroke-width="1.4" />
<text x="740.00" y="790.90" font-size="16.6" fill="#111" text-anchor="start" >10 mV</text>
<text x="739.50" y="810.90" font-size="16.6" fill="#111" text-anchor="start" >200 ms</text>
<line x1="475.00" y1="606.50" x2="489.40" y2="606.50" stroke="#e2e2e2" stroke-width="2.5" />
<line x1="475.00" y1="621.50" x2="489.40" y2="621.50" stroke="#e2e2e2" stroke-width="2.5" />
<line x1="475.00" y1="643.80" x2="489.40" y2="643.80" stroke="#e2e2e2" stroke-width="2.5" />
<line x1="475.00" y1="608.50" x2="489.40" y2="608.50" stroke="#666" stroke-width="1.4" />
<line x1="475.00" y1="608.50" x2="489.40" y2="608.50" stroke="#222" stroke-width="1.5" stroke-dasharray="3,2"/>
<line x1="475.00" y1="624.00" x2="489.40" y2="624.00" stroke="#666" stroke-width="1.4" />
<line x1="475.00" y1="624.00" x2="489.40" y2="624.00" stroke="#222" stroke-width="1.5" stroke-dasharray="3,2"/>
<line x1="475.00" y1="628.50" x2="489.40" y2="628.50" stroke="#666" stroke-width="1.4" />
<line x1="475.00" y1="628.50" x2="489.40" y2="628.50" stroke="#222" stroke-width="1.5" stroke-dasharray="3,2"/>
<line x1="475.00" y1="646.25" x2="489.40" y2="646.25" stroke="#666" stroke-width="1.4" />
<line x1="475.00" y1="646.25" x2="489.40" y2="646.25" stroke="#222" stroke-width="1.5" stroke-dasharray="3,2"/>
<line x1="475.00" y1="649.75" x2="489.40" y2="649.75" stroke="#666" stroke-width="1.4" />
<line x1="475.00" y1="649.75" x2="489.40" y2="649.75" stroke="#222" stroke-width="1.5" stroke-dasharray="3,2"/>
<polygon points="503.0,812.0 503.3,813.3 503.6,814.6 503.9,815.9 504.2,817.2 504.5,818.5 504.8,819.8 505.1,821.1 505.4,822.3 505.7,823.5 506.0,824.7 506.3,825.9 506.7,827.0 507.0,828.1 507.3,829.1 507.7,830.1 508.0,831.0 508.3,831.9 508.7,832.7 509.1,833.5 509.4,834.3 509.8,835.1 510.2,835.8 510.6,836.4 510.9,837.1 511.3,837.7 511.7,838.2 512.1,838.8 512.5,839.3 512.9,839.7 513.2,840.4 513.6,841.2 514.0,842.0 514.4,842.7 514.7,843.4 515.1,844.1 515.4,844.7 515.7,845.3 516.1,845.8 516.4,846.4 516.8,846.9 517.1,847.3 517.5,847.8 517.8,848.2 518.2,848.6 518.6,849.0 519.1,849.3 519.5,849.7 520.0,850.0 520.5,850.3 521.0,850.6 521.5,850.9 522.0,851.1 522.5,851.3 523.0,851.5 523.6,851.7 524.1,851.9 524.7,852.0 525.3,852.1 526.0,852.2 526.7,852.2 527.4,852.2 528.2,852.2 529.1,852.1 530.0,852.0 531.0,851.8 532.0,851.6 533.0,851.4 534.1,851.1 535.2,850.8 536.3,850.4 537.5,850.0 538.8,849.6 540.0,849.2 541.3,848.7 542.7,848.3 544.1,847.8 545.5,847.4 547.0,846.9 548.5,846.4 550.0,846.0 551.6,845.5 553.3,845.1 555.0,844.6 556.8,844.0 558.6,843.5 560.5,842.9 562.4,842.4 564.4,841.8 566.3,841.3 568.3,840.7 570.3,840.2 572.3,839.7 574.2,839.2 576.2,838.8 578.1,838.4 580.0,838.0 581.9,837.7 583.8,837.4 585.6,837.1 587.5,836.9 589.4,836.6 591.2,836.4 593.1,836.3 595.0,836.1 596.9,835.9 598.8,835.8 600.6,835.7 602.5,835.5 604.4,835.4 606.2,835.3 608.1,835.1 610.0,835.0 611.9,834.9 613.7,834.8 615.5,834.7 617.3,834.6 619.0,834.5 620.8,834.4 622.6,834.3 624.4,834.3 626.2,834.2 628.0,834.1 629.9,834.1 631.8,834.0 633.8,833.9 635.8,833.8 637.9,833.7 640.0,833.6 642.2,833.5 644.6,833.3 647.0,833.2 649.5,833.0 652.1,832.8 654.7,832.7 657.4,832.5 660.0,832.3 662.7,832.1 665.3,831.9 667.9,831.8 670.5,831.6 673.0,831.4 675.4,831.3 677.8,831.1 680.0,831.0 682.2,830.9 684.4,830.8 686.6,830.6 688.8,830.5 691.0,830.4 693.1,830.3 695.2,830.2 697.2,830.1 699.1,830.1 701.0,830.0 702.7,829.9 704.4,829.8 705.9,829.8 707.2,829.7 708.4,829.6 709.4,829.6 709.4,847.6 708.4,847.6 707.2,847.7 705.9,847.8 704.4,847.8 702.7,847.9 701.0,848.0 699.1,848.1 697.2,848.1 695.2,848.2 693.1,848.3 691.0,848.4 688.8,848.5 686.6,848.6 684.4,848.8 682.2,848.9 680.0,849.0 677.8,849.1 675.4,849.3 673.0,849.4 670.5,849.6 667.9,849.8 665.3,849.9 662.7,850.1 660.0,850.3 657.4,850.5 654.7,850.7 652.1,850.8 649.5,851.0 647.0,851.2 644.6,851.3 642.2,851.5 640.0,851.6 637.9,851.7 635.8,851.8 633.8,851.9 631.8,852.0 629.9,852.1 628.0,852.1 626.2,852.2 624.4,852.3 622.6,852.3 620.8,852.4 619.0,852.5 617.3,852.6 615.5,852.7 613.7,852.8 611.9,852.9 610.0,853.0 608.1,853.1 606.2,853.3 604.4,853.4 602.5,853.5 600.6,853.7 598.8,853.8 596.9,853.9 595.0,854.1 593.1,854.3 591.2,854.4 589.4,854.6 587.5,854.9 585.6,855.1 583.8,855.4 581.9,855.7 580.0,856.0 578.1,856.4 576.2,856.8 574.2,857.2 572.3,857.7 570.3,858.2 568.3,858.7 566.3,859.3 564.4,859.8 562.4,860.4 560.5,860.9 558.6,861.5 556.8,862.0 555.0,862.6 553.3,863.1 551.6,863.5 550.0,864.0 548.5,864.4 547.0,864.9 545.5,865.4 544.1,865.8 542.7,866.3 541.3,866.7 540.0,867.2 538.8,867.6 537.5,868.0 536.3,868.4 535.2,868.8 534.1,869.1 533.0,869.4 532.0,869.6 531.0,869.8 530.0,870.0 529.1,870.1 528.2,870.2 527.4,870.2 526.7,870.2 526.0,870.2 525.3,870.1 524.7,870.0 524.1,869.9 523.6,869.7 523.0,869.5 522.5,869.3 522.0,869.1 521.5,868.9 521.0,868.6 520.5,868.3 520.0,868.0 519.5,867.7 519.1,867.3 518.6,867.0 518.2,866.6 517.8,866.2 517.5,865.8 517.1,865.3 516.8,864.9 516.4,864.4 516.1,863.8 515.7,863.3 515.4,862.7 515.1,862.1 514.7,861.4 514.4,860.7 514.0,860.0 513.6,859.2 513.2,858.4 512.9,857.5 512.5,856.3 512.1,855.1 511.7,853.9 511.3,852.6 510.9,851.4 510.6,850.0 510.2,848.7 509.8,847.3 509.4,845.9 509.1,844.5 508.7,843.0 508.3,841.5 508.0,840.0 507.7,838.5 507.3,836.9 507.0,835.2 506.7,833.6 506.3,831.9 506.0,830.1 505.7,828.4 505.4,826.6 505.1,824.8 504.8,823.0 504.5,821.2 504.2,819.3 503.9,817.5 503.6,815.7 503.3,813.8 503.0,812.0" fill="#d6d6d6" stroke="#d6d6d6" stroke-width="1.5" stroke-linejoin="round"/>
<polygon points="728.4,655.4 728.9,654.4 729.4,653.4 729.9,652.4 730.4,651.5 730.9,650.5 731.4,649.6 732.0,648.7 732.5,647.8 733.0,646.9 733.6,646.0 734.1,645.2 734.7,644.7 735.3,644.1 735.8,643.6 736.4,643.1 737.0,642.7 737.6,642.2 738.3,641.8 738.9,641.3 739.6,640.9 740.3,640.6 741.0,640.2 741.7,639.8 742.5,639.5 743.3,639.2 744.1,638.9 744.9,638.6 745.8,638.4 746.7,638.1 747.5,637.9 748.4,637.7 749.4,637.5 750.3,637.4 751.3,637.2 752.3,637.1 753.3,637.0 754.3,636.8 755.4,636.7 756.4,636.6 757.5,636.5 758.6,636.4 759.9,636.3 761.2,636.3 762.6,636.2 764.1,636.2 765.5,636.2 767.0,636.2 768.4,636.2 769.9,636.2 771.2,636.2 772.6,636.2 773.8,636.2 774.9,636.2 775.9,636.3 776.8,636.3 777.5,636.2 777.5,642.2 776.8,642.3 775.9,642.3 774.9,642.2 773.8,642.2 772.6,642.2 771.2,642.2 769.9,642.2 768.4,642.2 767.0,642.2 765.5,642.2 764.1,642.2 762.6,642.2 761.2,642.3 759.9,642.3 758.6,642.4 757.5,642.5 756.4,642.6 755.4,642.7 754.3,642.8 753.3,643.0 752.3,643.1 751.3,643.2 750.3,643.4 749.4,643.5 748.4,643.7 747.5,643.9 746.7,644.1 745.8,644.4 744.9,644.6 744.1,644.9 743.3,645.2 742.5,645.5 741.7,645.8 741.0,646.2 740.3,646.6 739.6,646.9 738.9,647.3 738.3,647.8 737.6,648.2 737.0,648.7 736.4,649.1 735.8,649.6 735.3,650.1 734.7,650.7 734.1,651.2 733.6,651.6 733.0,651.9 732.5,652.2 732.0,652.6 731.4,653.0 730.9,653.4 730.4,653.9 729.9,654.3 729.4,654.8 728.9,655.3 728.4,655.8" fill="#d6d6d6" stroke="#d6d6d6" stroke-width="1.5" stroke-linejoin="round"/>
<polygon points="503.1,860.4 503.4,862.2 503.7,864.0 504.0,865.6 504.3,867.2 504.7,868.8 505.0,870.2 505.3,871.6 505.7,873.0 506.0,874.2 506.3,875.4 506.7,876.4 507.0,877.4 507.4,878.3 507.7,879.1 508.1,879.8 508.4,880.5 508.8,881.1 509.2,881.6 509.6,882.1 509.9,882.6 510.3,883.1 510.7,883.5 511.1,883.9 511.6,884.2 512.0,884.6 512.4,884.9 512.9,885.2 513.3,885.7 513.8,886.2 514.3,886.7 514.8,887.1 515.3,887.5 515.8,887.9 516.3,888.2 516.8,888.5 517.3,888.8 517.8,889.1 518.3,889.4 518.9,889.6 519.4,889.8 520.0,890.0 520.6,890.2 521.1,890.4 521.6,890.5 522.1,890.7 522.6,890.8 523.2,890.9 523.7,891.0 524.2,891.0 524.8,891.0 525.4,891.0 526.1,890.9 526.8,890.8 527.5,890.7 528.3,890.5 529.1,890.3 530.0,890.0 531.0,889.6 532.0,889.2 533.0,888.7 534.1,888.2 535.2,887.6 536.3,887.0 537.5,886.3 538.8,885.6 540.0,884.9 541.3,884.2 542.7,883.5 544.1,882.7 545.5,882.0 547.0,881.3 548.5,880.6 550.0,880.0 551.6,879.4 553.3,878.7 555.0,878.1 556.8,877.4 558.6,876.7 560.5,876.1 562.4,875.4 564.4,874.8 566.3,874.1 568.3,873.5 570.3,872.8 572.3,872.2 574.2,871.6 576.2,871.1 578.1,870.5 580.0,870.0 581.9,869.5 583.8,869.0 585.6,868.6 587.5,868.1 589.4,867.7 591.2,867.3 593.1,866.9 595.0,866.6 596.9,866.2 598.8,865.9 600.6,865.5 602.5,865.2 604.4,864.9 606.2,864.6 608.1,864.3 610.0,864.0 611.9,863.7 613.7,863.5 615.5,863.2 617.3,863.0 619.0,862.8 620.8,862.6 622.6,862.4 624.4,862.2 626.2,862.0 628.0,861.9 629.9,861.7 631.8,861.6 633.8,861.4 635.8,861.3 637.9,861.1 640.0,861.0 642.2,860.9 644.6,860.7 647.0,860.6 649.5,860.5 652.1,860.4 654.7,860.3 657.4,860.2 660.0,860.1 662.7,860.0 665.3,860.0 667.9,859.9 670.5,859.8 673.0,859.7 675.4,859.7 677.8,859.6 680.0,859.5 682.2,859.4 684.4,859.3 686.6,859.3 688.8,859.2 691.0,859.1 693.1,859.0 695.2,858.9 697.2,858.9 699.1,858.8 701.0,858.7 702.7,858.6 704.4,858.6 705.9,858.5 707.2,858.5 708.4,858.4 709.4,858.4 709.4,867.9 708.4,867.9 707.2,868.0 705.9,868.0 704.4,868.1 702.7,868.1 701.0,868.2 699.1,868.3 697.2,868.4 695.2,868.4 693.1,868.5 691.0,868.6 688.8,868.7 686.6,868.8 684.4,868.8 682.2,868.9 680.0,869.0 677.8,869.1 675.4,869.2 673.0,869.2 670.5,869.3 667.9,869.4 665.3,869.5 662.7,869.5 660.0,869.6 657.4,869.7 654.7,869.8 652.1,869.9 649.5,870.0 647.0,870.1 644.6,870.2 642.2,870.4 640.0,870.5 637.9,870.6 635.8,870.8 633.8,870.9 631.8,871.1 629.9,871.2 628.0,871.4 626.2,871.5 624.4,871.7 622.6,871.9 620.8,872.1 619.0,872.3 617.3,872.5 615.5,872.7 613.7,873.0 611.9,873.2 610.0,873.5 608.1,873.8 606.2,874.1 604.4,874.4 602.5,874.7 600.6,875.0 598.8,875.4 596.9,875.7 595.0,876.1 593.1,876.4 591.2,876.8 589.4,877.2 587.5,877.6 585.6,878.1 583.8,878.5 581.9,879.0 580.0,879.5 578.1,880.0 576.2,880.6 574.2,881.1 572.3,881.7 570.3,882.3 568.3,883.0 566.3,883.6 564.4,884.2 562.4,884.9 560.5,885.6 558.6,886.2 556.8,886.9 555.0,887.6 553.3,888.2 551.6,888.9 550.0,889.5 548.5,890.1 547.0,890.8 545.5,891.5 544.1,892.2 542.7,893.0 541.3,893.7 540.0,894.4 538.8,895.1 537.5,895.8 536.3,896.5 535.2,897.1 534.1,897.7 533.0,898.2 532.0,898.7 531.0,899.1 530.0,899.5 529.1,899.8 528.3,900.0 527.5,900.2 526.8,900.3 526.1,900.4 525.4,900.5 524.8,900.5 524.2,900.5 523.7,900.5 523.2,900.4 522.6,900.3 522.1,900.2 521.6,900.0 521.1,899.9 520.6,899.7 520.0,899.5 519.4,899.3 518.9,899.1 518.3,898.9 517.8,898.6 517.3,898.3 516.8,898.0 516.3,897.7 515.8,897.4 515.3,897.0 514.8,896.6 514.3,896.2 513.8,895.7 513.3,895.2 512.9,894.6 512.4,893.9 512.0,893.1 511.6,892.4 511.1,891.6 510.7,890.8 510.3,890.0 509.9,889.2 509.6,888.4 509.2,887.5 508.8,886.6 508.4,885.6 508.1,884.6 507.7,883.6 507.4,882.4 507.0,881.2 506.7,879.9 506.3,878.5 506.0,877.0 505.7,875.5 505.3,873.8 505.0,872.1 504.7,870.4 504.3,868.5 504.0,866.6 503.7,864.6 503.4,862.6 503.1,860.5" fill="#d6d6d6" stroke="#d6d6d6" stroke-width="1.5" stroke-linejoin="round"/>
<polygon points="728.3,665.7 728.8,664.7 729.2,663.7 729.6,662.8 730.0,661.9 730.4,661.0 730.9,660.2 731.3,659.3 731.7,658.5 732.2,657.7 732.6,656.9 733.1,656.1 733.6,655.4 734.1,654.6 734.6,654.1 735.1,653.5 735.7,653.0 736.2,652.5 736.8,652.0 737.5,651.5 738.1,651.0 738.7,650.6 739.4,650.1 740.0,649.7 740.7,649.3 741.4,648.9 742.1,648.5 742.8,648.2 743.6,647.8 744.3,647.5 745.1,647.1 745.9,646.8 746.7,646.5 747.5,646.2 748.3,646.0 749.2,645.7 750.1,645.5 751.0,645.3 751.9,645.1 752.9,644.9 753.8,644.8 754.8,644.6 755.7,644.5 756.7,644.3 757.7,644.2 758.7,644.1 759.6,644.0 760.6,643.9 761.6,643.8 762.5,643.8 763.5,643.7 764.5,643.6 765.5,643.6 766.6,643.6 767.7,643.6 768.8,643.6 769.9,643.6 770.9,643.6 772.0,643.6 773.0,643.6 773.9,643.7 774.8,643.7 775.6,643.7 776.3,643.7 777.0,643.7 777.5,643.8 777.5,648.8 777.0,648.7 776.3,648.7 775.6,648.7 774.8,648.7 773.9,648.7 773.0,648.6 772.0,648.6 770.9,648.6 769.9,648.6 768.8,648.6 767.7,648.6 766.6,648.6 765.5,648.6 764.5,648.6 763.5,648.7 762.5,648.8 761.6,648.8 760.6,648.9 759.6,649.0 758.7,649.1 757.7,649.2 756.7,649.3 755.7,649.5 754.8,649.6 753.8,649.8 752.9,649.9 751.9,650.1 751.0,650.3 750.1,650.5 749.2,650.7 748.3,651.0 747.5,651.2 746.7,651.5 745.9,651.8 745.1,652.1 744.3,652.5 743.6,652.8 742.8,653.2 742.1,653.5 741.4,653.9 740.7,654.3 740.0,654.7 739.4,655.1 738.7,655.6 738.1,656.0 737.5,656.5 736.8,657.0 736.2,657.5 735.7,658.0 735.1,658.5 734.6,659.1 734.1,659.6 733.6,660.0 733.1,660.4 732.6,660.8 732.2,661.2 731.7,661.6 731.3,662.1 730.9,662.6 730.4,663.1 730.0,663.6 729.6,664.2 729.2,664.7 728.8,665.3 728.3,665.9" fill="#d6d6d6" stroke="#d6d6d6" stroke-width="1.5" stroke-linejoin="round"/>
<polygon points="503.3,885.9 503.7,887.8 504.0,889.5 504.3,891.1 504.7,892.7 505.1,894.1 505.4,895.4 505.8,896.7 506.2,897.8 506.6,898.9 506.9,899.9 507.3,900.9 507.7,901.8 508.1,902.6 508.5,903.4 508.9,904.2 509.2,905.0 509.6,905.7 510.0,906.5 510.4,907.2 510.7,907.9 511.1,908.6 511.4,909.2 511.7,909.8 512.1,910.4 512.4,910.9 512.8,911.4 513.1,911.9 513.5,912.4 513.8,912.9 514.2,913.4 514.6,913.9 515.1,914.3 515.5,914.7 516.0,915.0 516.5,915.3 517.0,915.5 517.6,915.7 518.1,915.9 518.7,916.0 519.3,916.1 519.9,916.1 520.5,916.1 521.1,916.1 521.8,916.0 522.4,915.9 523.1,915.8 523.8,915.6 524.5,915.5 525.3,915.2 526.0,915.0 526.7,914.7 527.4,914.4 528.1,914.1 528.8,913.7 529.5,913.2 530.3,912.8 531.0,912.3 531.8,911.8 532.6,911.2 533.4,910.6 534.3,910.1 535.3,909.5 536.3,908.9 537.5,908.2 538.7,907.6 540.0,907.0 541.4,906.4 542.9,905.7 544.5,904.9 546.1,904.2 547.9,903.4 549.6,902.6 551.5,901.8 553.4,901.0 555.3,900.2 557.3,899.4 559.3,898.6 561.4,897.8 563.5,897.1 565.7,896.3 567.8,895.6 570.0,895.0 572.2,894.4 574.6,893.8 577.0,893.2 579.5,892.6 582.1,892.0 584.7,891.4 587.3,890.9 590.0,890.4 592.7,889.9 595.3,889.4 597.9,888.9 600.5,888.5 603.0,888.1 605.4,887.7 607.8,887.3 610.0,887.0 612.1,886.7 614.2,886.5 616.1,886.3 618.0,886.1 619.8,886.0 621.5,885.9 623.3,885.8 625.0,885.7 626.7,885.6 628.5,885.6 630.2,885.5 632.0,885.4 633.9,885.4 635.8,885.3 637.9,885.1 640.0,885.0 642.2,884.8 644.6,884.7 647.0,884.5 649.5,884.3 652.1,884.1 654.7,883.9 657.4,883.7 660.0,883.5 662.7,883.3 665.3,883.1 667.9,882.9 670.5,882.7 673.0,882.5 675.4,882.3 677.8,882.2 680.0,882.0 682.2,881.9 684.4,881.7 686.6,881.6 688.8,881.4 691.0,881.3 693.1,881.2 695.2,881.1 697.2,881.0 699.1,880.9 701.0,880.8 702.7,880.7 704.4,880.6 705.9,880.5 707.2,880.4 708.4,880.4 709.4,880.3 709.4,888.8 708.4,888.9 707.2,888.9 705.9,889.0 704.4,889.1 702.7,889.2 701.0,889.3 699.1,889.4 697.2,889.5 695.2,889.6 693.1,889.7 691.0,889.8 688.8,889.9 686.6,890.1 684.4,890.2 682.2,890.4 680.0,890.5 677.8,890.7 675.4,890.8 673.0,891.0 670.5,891.2 667.9,891.4 665.3,891.6 662.7,891.8 660.0,892.0 657.4,892.2 654.7,892.4 652.1,892.6 649.5,892.8 647.0,893.0 644.6,893.2 642.2,893.3 640.0,893.5 637.9,893.6 635.8,893.8 633.9,893.9 632.0,893.9 630.2,894.0 628.5,894.1 626.7,894.1 625.0,894.2 623.3,894.3 621.5,894.4 619.8,894.5 618.0,894.6 616.1,894.8 614.2,895.0 612.1,895.2 610.0,895.5 607.8,895.8 605.4,896.2 603.0,896.6 600.5,897.0 597.9,897.4 595.3,897.9 592.7,898.4 590.0,898.9 587.3,899.4 584.7,899.9 582.1,900.5 579.5,901.1 577.0,901.7 574.6,902.3 572.2,902.9 570.0,903.5 567.8,904.1 565.7,904.8 563.5,905.6 561.4,906.3 559.3,907.1 557.3,907.9 555.3,908.7 553.4,909.5 551.5,910.3 549.6,911.1 547.9,911.9 546.1,912.7 544.5,913.4 542.9,914.2 541.4,914.9 540.0,915.5 538.7,916.1 537.5,916.7 536.3,917.4 535.3,918.0 534.3,918.6 533.4,919.1 532.6,919.7 531.8,920.2 531.0,920.8 530.3,921.3 529.5,921.7 528.8,922.2 528.1,922.6 527.4,922.9 526.7,923.2 526.0,923.5 525.3,923.7 524.5,924.0 523.8,924.1 523.1,924.3 522.4,924.4 521.8,924.5 521.1,924.6 520.5,924.6 519.9,924.6 519.3,924.6 518.7,924.5 518.1,924.4 517.6,924.2 517.0,924.0 516.5,923.8 516.0,923.5 515.5,923.2 515.1,922.8 514.6,922.4 514.2,921.9 513.8,921.4 513.5,920.9 513.1,920.4 512.8,919.7 512.4,918.9 512.1,918.1 511.7,917.3 511.4,916.4 511.1,915.5 510.7,914.5 510.4,913.5 510.0,912.5 509.6,911.4 509.2,910.3 508.9,909.2 508.5,908.1 508.1,906.9 507.7,905.8 507.3,904.5 506.9,903.3 506.6,901.9 506.2,900.5 505.8,899.0 505.4,897.5 505.1,895.9 504.7,894.1 504.3,892.3 504.0,890.4 503.7,888.3 503.3,886.2" fill="#d6d6d6" stroke="#d6d6d6" stroke-width="1.5" stroke-linejoin="round"/>
<polygon points="728.3,603.3 728.8,602.1 729.2,601.0 729.6,599.9 730.1,598.9 730.5,597.9 731.0,596.9 731.4,596.0 731.9,595.1 732.3,594.3 732.8,593.4 733.3,592.7 733.8,591.9 734.3,591.3 734.7,590.8 735.2,590.3 735.7,589.9 736.2,589.5 736.8,589.1 737.3,588.8 737.8,588.4 738.3,588.1 738.9,587.9 739.4,587.7 739.9,587.4 740.5,587.3 741.0,587.1 741.6,587.0 742.1,586.9 742.7,586.8 743.3,586.7 743.8,586.6 744.4,586.5 745.0,586.5 745.6,586.5 746.1,586.5 746.6,586.5 747.1,586.5 747.6,586.6 748.1,586.6 748.6,586.7 749.1,586.8 749.7,587.0 750.3,587.1 750.9,587.2 751.6,587.4 752.3,587.6 753.1,587.8 754.0,588.0 755.0,588.2 756.1,588.5 757.4,588.8 758.8,589.2 760.3,589.5 761.9,589.9 763.5,590.4 765.2,590.8 766.9,591.2 768.5,591.7 770.2,592.1 771.7,592.5 773.2,592.9 774.5,593.2 775.7,593.5 776.7,593.8 777.5,594.0 777.5,600.0 776.7,599.8 775.7,599.5 774.5,599.2 773.2,598.9 771.7,598.5 770.2,598.1 768.5,597.7 766.9,597.2 765.2,596.8 763.5,596.4 761.9,595.9 760.3,595.5 758.8,595.2 757.4,594.8 756.1,594.5 755.0,594.2 754.0,594.0 753.1,593.8 752.3,593.6 751.6,593.4 750.9,593.2 750.3,593.1 749.7,593.0 749.1,592.8 748.6,592.7 748.1,592.6 747.6,592.6 747.1,592.5 746.6,592.5 746.1,592.5 745.6,592.5 745.0,592.5 744.4,592.5 743.8,592.6 743.3,592.7 742.7,592.8 742.1,592.9 741.6,593.0 741.0,593.1 740.5,593.3 739.9,593.4 739.4,593.7 738.9,593.9 738.3,594.1 737.8,594.4 737.3,594.8 736.8,595.1 736.2,595.5 735.7,595.9 735.2,596.3 734.7,596.8 734.3,597.3 733.8,597.7 733.3,597.9 732.8,598.3 732.3,598.6 731.9,599.0 731.4,599.4 731.0,599.9 730.5,600.4 730.1,600.9 729.6,601.5 729.2,602.2 728.8,602.9 728.3,603.6" fill="#d6d6d6" stroke="#d6d6d6" stroke-width="1.5" stroke-linejoin="round"/>
<polygon points="515.6,755.1 516.1,755.7 516.7,756.3 517.3,756.9 517.9,757.5 518.4,758.0 519.0,758.5 519.5,759.0 520.1,759.4 520.5,759.9 521.0,760.3 521.5,760.7 521.9,761.0 522.4,761.4 522.8,761.7 523.3,761.9 523.9,762.2 524.4,762.4 525.0,762.6 525.7,762.9 526.4,763.2 527.1,763.5 528.0,763.8 528.9,764.0 529.7,764.2 530.5,764.4 531.4,764.6 532.2,764.7 533.1,764.9 534.0,765.0 535.0,765.1 536.1,765.1 537.3,765.2 538.6,765.2 540.1,765.3 541.7,765.3 543.4,765.3 545.4,765.3 547.5,765.2 549.9,765.2 552.5,765.1 555.3,765.0 558.4,764.9 561.6,764.8 564.9,764.6 568.3,764.5 571.8,764.3 575.4,764.1 579.0,764.0 582.7,763.8 586.3,763.6 589.8,763.4 593.3,763.3 596.7,763.1 600.0,763.0 603.2,762.9 606.3,762.8 609.4,762.7 612.5,762.6 615.5,762.5 618.5,762.4 621.5,762.3 624.6,762.2 627.6,762.2 630.7,762.1 633.8,762.0 636.9,761.9 640.1,761.8 643.3,761.7 646.6,761.6 650.0,761.5 653.6,761.4 657.4,761.3 661.4,761.1 665.6,761.0 669.9,760.8 674.2,760.7 678.5,760.6 682.8,760.4 687.0,760.3 691.1,760.1 694.9,760.0 698.5,759.9 701.8,759.8 704.8,759.7 707.3,759.6 709.4,759.5 709.4,765.5 707.3,765.6 704.8,765.7 701.8,765.8 698.5,765.9 694.9,766.0 691.1,766.1 687.0,766.3 682.8,766.4 678.5,766.6 674.2,766.7 669.9,766.8 665.6,767.0 661.4,767.1 657.4,767.3 653.6,767.4 650.0,767.5 646.6,767.6 643.3,767.7 640.1,767.8 636.9,767.9 633.8,768.0 630.7,768.1 627.6,768.2 624.6,768.2 621.5,768.3 618.5,768.4 615.5,768.5 612.5,768.6 609.4,768.7 606.3,768.8 603.2,768.9 600.0,769.0 596.7,769.1 593.3,769.3 589.8,769.4 586.3,769.6 582.7,769.8 579.0,770.0 575.4,770.1 571.8,770.3 568.3,770.5 564.9,770.6 561.6,770.8 558.4,770.9 555.3,771.0 552.5,771.1 549.9,771.2 547.5,771.2 545.4,771.3 543.4,771.3 541.7,771.3 540.1,771.3 538.6,771.2 537.3,771.2 536.1,771.1 535.0,771.1 534.0,771.0 533.1,770.9 532.2,770.7 531.4,770.6 530.5,770.4 529.7,770.2 528.9,770.0 528.0,769.8 527.1,769.5 526.4,769.2 525.7,768.9 525.0,768.6 524.4,768.0 523.9,767.5 523.3,766.9 522.8,766.4 522.4,765.8 521.9,765.2 521.5,764.5 521.0,763.9 520.5,763.2 520.1,762.5 519.5,761.7 519.0,760.9 518.4,760.1 517.9,759.2 517.3,758.3 516.7,757.4 516.1,756.4 515.6,755.5" fill="#d6d6d6" stroke="#d6d6d6" stroke-width="1.5" stroke-linejoin="round"/>
<polygon points="728.4,623.9 728.9,622.8 729.4,621.6 729.9,620.5 730.4,619.4 730.9,618.4 731.4,617.3 732.0,616.3 732.5,615.2 733.1,614.2 733.6,613.3 734.2,612.4 734.8,611.7 735.4,611.1 736.0,610.5 736.6,609.9 737.2,609.3 737.8,608.8 738.5,608.3 739.1,607.8 739.8,607.4 740.4,606.9 741.1,606.5 741.8,606.1 742.5,605.8 743.2,605.4 744.0,605.1 744.7,604.8 745.5,604.6 746.3,604.4 747.1,604.2 747.9,604.0 748.8,603.9 749.6,603.7 750.4,603.6 751.2,603.5 752.0,603.5 752.8,603.4 753.5,603.3 754.3,603.3 755.0,603.2 755.7,603.2 756.4,603.2 757.0,603.2 757.6,603.3 758.2,603.3 758.8,603.4 759.4,603.4 760.0,603.5 760.6,603.6 761.2,603.7 761.8,603.9 762.4,604.0 763.0,604.1 763.6,604.2 764.3,604.4 765.0,604.5 765.7,604.6 766.5,604.8 767.4,605.0 768.2,605.2 769.1,605.4 770.1,605.6 771.0,605.9 771.9,606.1 772.8,606.3 773.6,606.5 774.4,606.7 775.2,606.9 775.9,607.1 776.5,607.3 777.1,607.4 777.5,607.5 777.5,613.5 777.1,613.4 776.5,613.3 775.9,613.1 775.2,612.9 774.4,612.7 773.6,612.5 772.8,612.3 771.9,612.1 771.0,611.9 770.1,611.6 769.1,611.4 768.2,611.2 767.4,611.0 766.5,610.8 765.7,610.6 765.0,610.5 764.3,610.4 763.6,610.2 763.0,610.1 762.4,610.0 761.8,609.9 761.2,609.7 760.6,609.6 760.0,609.5 759.4,609.4 758.8,609.4 758.2,609.3 757.6,609.3 757.0,609.2 756.4,609.2 755.7,609.2 755.0,609.2 754.3,609.3 753.5,609.3 752.8,609.4 752.0,609.5 751.2,609.5 750.4,609.6 749.6,609.7 748.8,609.9 747.9,610.0 747.1,610.2 746.3,610.4 745.5,610.6 744.7,610.8 744.0,611.1 743.2,611.4 742.5,611.8 741.8,612.1 741.1,612.5 740.4,612.9 739.8,613.4 739.1,613.8 738.5,614.3 737.8,614.8 737.2,615.3 736.6,615.9 736.0,616.5 735.4,617.1 734.8,617.7 734.2,618.4 733.6,618.9 733.1,619.3 732.5,619.8 732.0,620.2 731.4,620.7 730.9,621.3 730.4,621.8 729.9,622.4 729.4,623.0 728.9,623.7 728.4,624.4" fill="#d6d6d6" stroke="#d6d6d6" stroke-width="1.5" stroke-linejoin="round"/>
<polygon points="520.8,667.7 521.8,667.7 522.8,667.8 523.9,667.8 524.9,667.8 526.0,667.9 527.1,667.8 528.1,667.8 529.2,667.8 530.3,667.8 531.4,667.9 532.6,668.0 533.7,668.1 534.9,668.2 536.1,668.2 537.3,668.3 538.5,668.4 539.7,668.4 541.0,668.4 542.3,668.5 543.6,668.5 545.0,668.5 546.4,668.5 547.8,668.5 549.2,668.4 550.7,668.4 552.2,668.3 553.7,668.2 555.3,668.1 556.8,668.0 558.4,668.0 560.0,667.9 561.6,667.8 563.3,667.7 564.9,667.6 566.6,667.6 568.3,667.5 570.0,667.5 571.7,667.5 573.4,667.5 575.0,667.5 576.7,667.5 578.3,667.6 580.0,667.6 581.7,667.7 583.4,667.7 585.2,667.8 587.1,667.8 589.0,667.9 591.0,667.9 593.1,667.9 595.3,668.0 597.6,668.0 600.0,668.0 602.6,668.0 605.2,668.0 608.0,668.0 610.9,667.9 613.8,667.9 616.9,667.9 620.0,667.9 623.2,667.8 626.4,667.8 629.7,667.7 633.0,667.7 636.4,667.6 639.8,667.6 643.2,667.6 646.6,667.5 650.0,667.5 653.6,667.5 657.4,667.4 661.4,667.4 665.6,667.4 669.9,667.3 674.2,667.3 678.5,667.3 682.8,667.2 687.0,667.2 691.1,667.2 694.9,667.1 698.5,667.1 701.8,667.1 704.8,667.0 707.3,667.0 709.4,667.0 709.4,671.0 707.3,671.0 704.8,671.0 701.8,671.1 698.5,671.1 694.9,671.1 691.1,671.2 687.0,671.2 682.8,671.2 678.5,671.3 674.2,671.3 669.9,671.3 665.6,671.4 661.4,671.4 657.4,671.4 653.6,671.5 650.0,671.5 646.6,671.5 643.2,671.6 639.8,671.6 636.4,671.6 633.0,671.7 629.7,671.7 626.4,671.8 623.2,671.8 620.0,671.9 616.9,671.9 613.8,671.9 610.9,671.9 608.0,672.0 605.2,672.0 602.6,672.0 600.0,672.0 597.6,672.0 595.3,672.0 593.1,671.9 591.0,671.9 589.0,671.9 587.1,671.8 585.2,671.8 583.4,671.7 581.7,671.7 580.0,671.6 578.3,671.6 576.7,671.5 575.0,671.5 573.4,671.5 571.7,671.5 570.0,671.5 568.3,671.5 566.6,671.6 564.9,671.6 563.3,671.7 561.6,671.8 560.0,671.9 558.4,672.0 556.8,672.0 555.3,672.1 553.7,672.2 552.2,672.3 550.7,672.4 549.2,672.4 547.8,672.5 546.4,672.5 545.0,672.5 543.6,672.5 542.3,672.5 541.0,672.4 539.7,672.4 538.5,672.4 537.3,672.3 536.1,672.2 534.9,672.2 533.7,672.1 532.6,672.0 531.4,671.9 530.3,671.8 529.2,671.5 528.1,671.1 527.1,670.7 526.0,670.2 524.9,669.8 523.9,669.4 522.8,668.9 521.8,668.5 520.8,668.0" fill="#d6d6d6" stroke="#d6d6d6" stroke-width="1.5" stroke-linejoin="round"/>
<polygon points="728.7,635.0 729.5,634.6 730.4,634.2 731.2,633.7 732.1,633.3 733.0,632.9 734.0,632.4 735.0,632.2 736.0,632.1 737.1,631.9 738.3,631.7 739.4,631.5 740.6,631.3 741.8,631.1 743.1,631.0 744.4,630.8 745.7,630.7 747.0,630.5 748.3,630.4 749.6,630.2 751.0,630.1 752.3,630.0 753.7,629.9 755.0,629.8 756.4,629.7 757.8,629.6 759.4,629.5 761.0,629.4 762.6,629.4 764.2,629.3 765.9,629.3 767.5,629.2 769.1,629.2 770.6,629.1 772.0,629.1 773.4,629.1 774.6,629.1 775.7,629.0 776.7,629.0 777.5,629.0 777.5,632.0 776.7,632.0 775.7,632.0 774.6,632.1 773.4,632.1 772.0,632.1 770.6,632.1 769.1,632.2 767.5,632.2 765.9,632.3 764.2,632.3 762.6,632.4 761.0,632.4 759.4,632.5 757.8,632.6 756.4,632.7 755.0,632.8 753.7,632.9 752.3,633.0 751.0,633.1 749.6,633.2 748.3,633.4 747.0,633.5 745.7,633.7 744.4,633.8 743.1,634.0 741.8,634.1 740.6,634.3 739.4,634.5 738.3,634.7 737.1,634.9 736.0,635.1 735.0,635.2 734.0,635.4 733.0,635.4 732.1,635.4 731.2,635.3 730.4,635.3 729.5,635.3 728.7,635.4" fill="#d6d6d6" stroke="#d6d6d6" stroke-width="1.5" stroke-linejoin="round"/>
<path d="M489.40,624.00 C489.83,636.67 490.90,677.33 492.00,700.00 C493.10,722.67 494.83,745.83 496.00,760.00 C497.17,774.17 497.83,776.33 499.00,785.00 C500.17,793.67 501.50,803.50 503.00,812.00 C504.50,820.50 506.17,829.33 508.00,836.00 C509.83,842.67 512.00,848.00 514.00,852.00 C516.00,856.00 517.33,858.33 520.00,860.00 C522.67,861.67 525.00,862.67 530.00,862.00 C535.00,861.33 541.67,858.33 550.00,856.00 C558.33,853.67 570.00,849.83 580.00,848.00 C590.00,846.17 600.00,845.73 610.00,845.00 C620.00,844.27 628.33,844.27 640.00,843.60 C651.67,842.93 668.43,841.67 680.00,841.00 C691.57,840.33 704.50,839.83 709.40,839.60" fill="none" stroke="#2a2a2a" stroke-width="1.15"/>
<path d="M709.40,839.60 C709.75,831.33 710.90,804.93 711.50,790.00 C712.10,775.07 712.42,764.17 713.00,750.00 C713.58,735.83 713.83,716.67 715.00,705.00 C716.17,693.33 718.33,687.08 720.00,680.00 C721.67,672.92 722.92,667.50 725.00,662.50 C727.08,657.50 729.58,653.33 732.50,650.00 C735.42,646.67 738.33,644.25 742.50,642.50 C746.67,640.75 751.67,640.04 757.50,639.50 C763.33,638.96 774.17,639.29 777.50,639.25" fill="none" stroke="#2a2a2a" stroke-width="1.15"/>
<path d="M489.40,646.00 C490.00,658.33 491.73,694.33 493.00,720.00 C494.27,745.67 495.67,779.17 497.00,800.00 C498.33,820.83 499.50,832.33 501.00,845.00 C502.50,857.67 504.17,868.50 506.00,876.00 C507.83,883.50 509.67,886.67 512.00,890.00 C514.33,893.33 517.00,895.00 520.00,896.00 C523.00,897.00 525.00,897.67 530.00,896.00 C535.00,894.33 541.67,889.33 550.00,886.00 C558.33,882.67 570.00,878.67 580.00,876.00 C590.00,873.33 600.00,871.50 610.00,870.00 C620.00,868.50 628.33,867.75 640.00,867.00 C651.67,866.25 668.43,865.93 680.00,865.50 C691.57,865.07 704.50,864.58 709.40,864.40" fill="none" stroke="#2a2a2a" stroke-width="1.15"/>
<path d="M709.40,864.40 C709.58,857.00 710.19,834.07 710.50,820.00 C710.81,805.93 710.71,795.00 711.25,780.00 C711.79,765.00 712.71,743.33 713.75,730.00 C714.79,716.67 716.04,708.33 717.50,700.00 C718.96,691.67 720.62,685.83 722.50,680.00 C724.38,674.17 726.46,669.17 728.75,665.00 C731.04,660.83 733.12,657.71 736.25,655.00 C739.38,652.29 743.12,650.21 747.50,648.75 C751.88,647.29 757.50,646.67 762.50,646.25 C767.50,645.83 775.00,646.25 777.50,646.25" fill="none" stroke="#2a2a2a" stroke-width="1.15"/>
<path d="M489.40,650.00 C489.83,665.00 491.07,716.67 492.00,740.00 C492.93,763.33 493.83,771.67 495.00,790.00 C496.17,808.33 497.50,833.33 499.00,850.00 C500.50,866.67 502.17,880.00 504.00,890.00 C505.83,900.00 508.00,905.00 510.00,910.00 C512.00,915.00 513.33,918.33 516.00,920.00 C518.67,921.67 522.00,921.33 526.00,920.00 C530.00,918.67 532.67,915.33 540.00,912.00 C547.33,908.67 558.33,903.33 570.00,900.00 C581.67,896.67 598.33,893.67 610.00,892.00 C621.67,890.33 628.33,890.83 640.00,890.00 C651.67,889.17 668.43,887.78 680.00,887.00 C691.57,886.22 704.50,885.58 709.40,885.30" fill="none" stroke="#2a2a2a" stroke-width="1.15"/>
<path d="M709.40,885.30 C709.58,876.08 710.07,850.88 710.50,830.00 C710.93,809.12 711.46,780.83 712.00,760.00 C712.54,739.17 712.83,722.50 713.75,705.00 C714.67,687.50 716.04,668.75 717.50,655.00 C718.96,641.25 720.62,631.25 722.50,622.50 C724.38,613.75 726.46,607.50 728.75,602.50 C731.04,597.50 733.54,594.67 736.25,592.50 C738.96,590.33 741.88,589.71 745.00,589.50 C748.12,589.29 749.58,590.00 755.00,591.25 C760.42,592.50 773.75,596.04 777.50,597.00" fill="none" stroke="#2a2a2a" stroke-width="1.15"/>
<path d="M489.40,628.00 C489.83,636.67 490.82,667.58 492.00,680.00 C493.18,692.42 494.75,695.00 496.50,702.50 C498.25,710.00 500.25,717.75 502.50,725.00 C504.75,732.25 507.25,740.25 510.00,746.00 C512.75,751.75 516.00,756.12 519.00,759.50 C522.00,762.88 523.25,764.88 528.00,766.25 C532.75,767.62 535.50,767.88 547.50,767.75 C559.50,767.62 582.92,766.12 600.00,765.50 C617.08,764.88 631.77,764.58 650.00,764.00 C668.23,763.42 699.50,762.33 709.40,762.00" fill="none" stroke="#2a2a2a" stroke-width="1.15"/>
<path d="M709.40,762.00 C709.83,755.00 710.65,733.67 712.00,720.00 C713.35,706.33 716.17,690.83 717.50,680.00 C718.83,669.17 718.75,662.92 720.00,655.00 C721.25,647.08 722.92,638.75 725.00,632.50 C727.08,626.25 729.58,621.46 732.50,617.50 C735.42,613.54 738.75,610.62 742.50,608.75 C746.25,606.88 751.25,606.46 755.00,606.25 C758.75,606.04 761.25,606.79 765.00,607.50 C768.75,608.21 775.42,610.00 777.50,610.50" fill="none" stroke="#2a2a2a" stroke-width="1.15"/>
<path d="M489.40,641.00 C489.67,641.75 490.07,643.79 491.00,645.50 C491.93,647.21 493.08,648.83 495.00,651.25 C496.92,653.67 499.83,657.71 502.50,660.00 C505.17,662.29 507.08,663.54 511.00,665.00 C514.92,666.46 520.33,667.92 526.00,668.75 C531.67,669.58 537.67,669.96 545.00,670.00 C552.33,670.04 560.83,669.08 570.00,669.00 C579.17,668.92 586.67,669.50 600.00,669.50 C613.33,669.50 631.77,669.17 650.00,669.00 C668.23,668.83 699.50,668.58 709.40,668.50" fill="none" stroke="#2a2a2a" stroke-width="1.15"/>
<path d="M709.40,668.50 C709.71,665.83 710.32,656.62 711.25,652.50 C712.18,648.38 713.12,646.25 715.00,643.75 C716.88,641.25 719.17,639.17 722.50,637.50 C725.83,635.83 729.58,634.79 735.00,633.75 C740.42,632.71 747.92,631.79 755.00,631.25 C762.08,630.71 773.75,630.62 777.50,630.50" fill="none" stroke="#2a2a2a" stroke-width="1.15"/>
<path d="M489.40,624.00 C489.83,636.67 490.90,677.33 492.00,700.00 C493.10,722.67 494.67,745.00 496.00,760.00 C497.33,775.00 498.50,780.33 500.00,790.00 C501.50,799.67 503.17,809.67 505.00,818.00 C506.83,826.33 509.00,834.33 511.00,840.00 C513.00,845.67 514.67,849.17 517.00,852.00 C519.33,854.83 521.17,856.50 525.00,857.00 C528.83,857.50 534.17,856.17 540.00,855.00 C545.83,853.83 551.67,852.00 560.00,850.00 C568.33,848.00 580.00,844.67 590.00,843.00 C600.00,841.33 608.33,840.83 620.00,840.00 C631.67,839.17 645.10,838.67 660.00,838.00 C674.90,837.33 701.17,836.33 709.40,836.00" fill="none" stroke="#333" stroke-width="1.2" stroke-dasharray="1.5,2.3"/>
<path d="M709.40,836.00 C709.67,828.33 710.48,804.33 711.00,790.00 C711.52,775.67 711.92,764.17 712.50,750.00 C713.08,735.83 713.42,716.67 714.50,705.00 C715.58,693.33 717.42,687.50 719.00,680.00 C720.58,672.50 722.17,665.42 724.00,660.00 C725.83,654.58 727.33,651.04 730.00,647.50 C732.67,643.96 735.83,640.75 740.00,638.75 C744.17,636.75 748.75,636.12 755.00,635.50 C761.25,634.88 773.75,635.08 777.50,635.00" fill="none" stroke="#333" stroke-width="1.2" stroke-dasharray="1.5,2.3"/>
<path d="M489.40,646.00 C490.00,658.33 491.57,694.33 493.00,720.00 C494.43,745.67 496.33,778.33 498.00,800.00 C499.67,821.67 501.33,837.00 503.00,850.00 C504.67,863.00 506.00,871.00 508.00,878.00 C510.00,885.00 512.17,889.00 515.00,892.00 C517.83,895.00 520.00,896.50 525.00,896.00 C530.00,895.50 535.83,892.00 545.00,889.00 C554.17,886.00 569.17,880.83 580.00,878.00 C590.83,875.17 600.00,873.50 610.00,872.00 C620.00,870.50 628.33,869.83 640.00,869.00 C651.67,868.17 668.43,867.50 680.00,867.00 C691.57,866.50 704.50,866.17 709.40,866.00" fill="none" stroke="#333" stroke-width="1.2" stroke-dasharray="1.5,2.3"/>
<path d="M709.40,866.00 C709.55,858.33 710.03,834.33 710.30,820.00 C710.57,805.67 710.52,795.00 711.00,780.00 C711.48,765.00 712.28,743.33 713.20,730.00 C714.12,716.67 715.20,708.33 716.50,700.00 C717.80,691.67 719.25,685.83 721.00,680.00 C722.75,674.17 724.67,669.33 727.00,665.00 C729.33,660.67 731.58,657.00 735.00,654.00 C738.42,651.00 742.92,648.58 747.50,647.00 C752.08,645.42 757.50,644.92 762.50,644.50 C767.50,644.08 775.00,644.50 777.50,644.50" fill="none" stroke="#333" stroke-width="1.2" stroke-dasharray="1.5,2.3"/>
<path d="M489.40,650.00 C490.00,665.00 491.73,715.00 493.00,740.00 C494.27,765.00 495.50,780.00 497.00,800.00 C498.50,820.00 500.17,843.67 502.00,860.00 C503.83,876.33 505.83,888.83 508.00,898.00 C510.17,907.17 512.17,911.83 515.00,915.00 C517.83,918.17 520.83,917.83 525.00,917.00 C529.17,916.17 532.50,913.50 540.00,910.00 C547.50,906.50 558.33,899.50 570.00,896.00 C581.67,892.50 598.33,890.50 610.00,889.00 C621.67,887.50 628.33,887.83 640.00,887.00 C651.67,886.17 668.43,884.75 680.00,884.00 C691.57,883.25 704.50,882.75 709.40,882.50" fill="none" stroke="#333" stroke-width="1.2" stroke-dasharray="1.5,2.3"/>
<path d="M709.40,882.50 C709.55,873.75 709.93,850.42 710.30,830.00 C710.67,809.58 711.12,780.83 711.60,760.00 C712.08,739.17 712.38,722.50 713.20,705.00 C714.02,687.50 715.12,669.17 716.50,655.00 C717.88,640.83 719.75,629.17 721.50,620.00 C723.25,610.83 724.75,604.79 727.00,600.00 C729.25,595.21 732.00,593.12 735.00,591.25 C738.00,589.38 740.42,588.75 745.00,588.75 C749.58,588.75 757.08,590.42 762.50,591.25 C767.92,592.08 775.00,593.33 777.50,593.75" fill="none" stroke="#333" stroke-width="1.2" stroke-dasharray="1.5,2.3"/>
<path d="M489.40,628.00 C490.08,639.17 491.82,678.08 493.50,695.00 C495.18,711.92 497.25,719.75 499.50,729.50 C501.75,739.25 504.00,747.62 507.00,753.50 C510.00,759.38 512.00,763.00 517.50,764.75 C523.00,766.50 526.25,764.88 540.00,764.00 C553.75,763.12 581.67,760.50 600.00,759.50 C618.33,758.50 631.77,758.50 650.00,758.00 C668.23,757.50 699.50,756.75 709.40,756.50" fill="none" stroke="#333" stroke-width="1.2" stroke-dasharray="1.5,2.3"/>
<path d="M709.40,757.00 C709.75,750.83 710.32,732.83 711.50,720.00 C712.68,707.17 715.25,690.83 716.50,680.00 C717.75,669.17 717.75,663.00 719.00,655.00 C720.25,647.00 722.17,638.67 724.00,632.00 C725.83,625.33 726.92,619.17 730.00,615.00 C733.08,610.83 738.33,608.67 742.50,607.00 C746.67,605.33 751.25,605.25 755.00,605.00 C758.75,604.75 761.25,605.00 765.00,605.50 C768.75,606.00 775.42,607.58 777.50,608.00" fill="none" stroke="#333" stroke-width="1.2" stroke-dasharray="1.5,2.3"/>
<path d="M489.40,641.00 C489.67,641.75 490.07,643.79 491.00,645.50 C491.93,647.21 493.08,648.83 495.00,651.25 C496.92,653.67 499.83,657.71 502.50,660.00 C505.17,662.29 507.08,663.54 511.00,665.00 C514.92,666.46 520.33,667.92 526.00,668.75 C531.67,669.58 537.67,669.96 545.00,670.00 C552.33,670.04 560.83,669.08 570.00,669.00 C579.17,668.92 586.67,669.50 600.00,669.50 C613.33,669.50 631.77,669.17 650.00,669.00 C668.23,668.83 699.50,668.58 709.40,668.50" fill="none" stroke="#333" stroke-width="1.2" stroke-dasharray="1.5,2.3"/>
<path d="M709.40,668.50 C709.71,665.75 710.32,656.42 711.25,652.00 C712.18,647.58 713.12,645.00 715.00,642.00 C716.88,639.00 719.17,636.21 722.50,634.00 C725.83,631.79 729.58,629.92 735.00,628.75 C740.42,627.58 747.92,627.29 755.00,627.00 C762.08,626.71 773.75,627.00 777.50,627.00" fill="none" stroke="#333" stroke-width="1.2" stroke-dasharray="1.5,2.3"/>
<line x1="489.40" y1="608.00" x2="489.40" y2="652.00" stroke="#111" stroke-width="1.4" />
</svg></body></html>
